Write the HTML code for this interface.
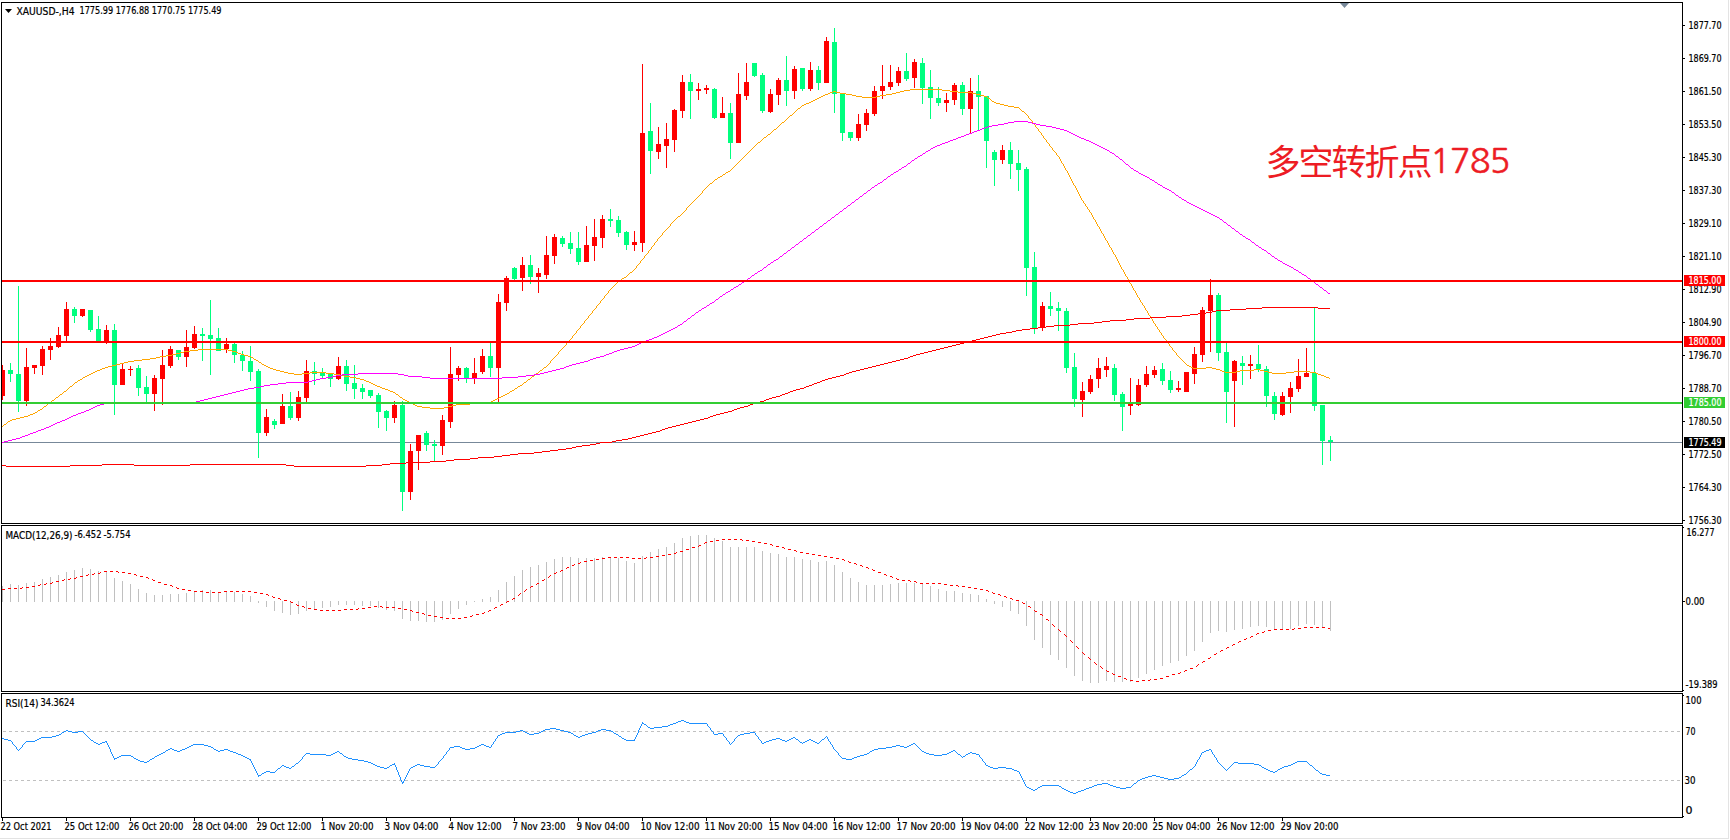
<!DOCTYPE html><html><head><meta charset="utf-8"><title>XAUUSD-,H4</title>
<style>html,body{margin:0;padding:0;background:#fff;width:1730px;height:840px;overflow:hidden}svg{display:block;position:absolute;left:0;top:0}text{font-family:'Liberation Sans', Arial, sans-serif}</style></head><body>
<svg width="1730" height="840" viewBox="0 0 1730 840">
<rect x="0" y="0" width="1730" height="840" fill="#fff"/>
<defs><clipPath id="cm"><rect x="2" y="3" width="1680" height="520"/></clipPath><clipPath id="cd"><rect x="2" y="526" width="1680" height="165"/></clipPath><clipPath id="cr"><rect x="2" y="694" width="1680" height="123"/></clipPath></defs>
<g clip-path="url(#cm)" shape-rendering="crispEdges">
<rect x="2" y="442" width="1680" height="1" fill="#778899"/>
<rect x="2" y="365" width="1" height="35" fill="#ff0000"/>
<rect x="0" y="370" width="5" height="26" fill="#ff0000"/>
<rect x="10" y="363" width="1" height="19" fill="#00ff7f"/>
<rect x="8" y="370" width="5" height="4" fill="#00ff7f"/>
<rect x="18" y="286" width="1" height="126" fill="#00ff7f"/>
<rect x="16" y="374" width="5" height="27" fill="#00ff7f"/>
<rect x="26" y="348" width="1" height="58" fill="#ff0000"/>
<rect x="24" y="367" width="5" height="34" fill="#ff0000"/>
<rect x="34" y="365" width="1" height="9" fill="#ff0000"/>
<rect x="32" y="365" width="5" height="3" fill="#ff0000"/>
<rect x="42" y="346" width="1" height="29" fill="#ff0000"/>
<rect x="40" y="349" width="5" height="17" fill="#ff0000"/>
<rect x="50" y="338" width="1" height="22" fill="#ff0000"/>
<rect x="48" y="346" width="5" height="4" fill="#ff0000"/>
<rect x="58" y="327" width="1" height="21" fill="#ff0000"/>
<rect x="56" y="335" width="5" height="12" fill="#ff0000"/>
<rect x="66" y="302" width="1" height="39" fill="#ff0000"/>
<rect x="64" y="309" width="5" height="27" fill="#ff0000"/>
<rect x="74" y="307" width="1" height="16" fill="#00ff7f"/>
<rect x="72" y="309" width="5" height="7" fill="#00ff7f"/>
<rect x="82" y="309" width="1" height="8" fill="#ff0000"/>
<rect x="80" y="309" width="5" height="7" fill="#ff0000"/>
<rect x="90" y="310" width="1" height="22" fill="#00ff7f"/>
<rect x="88" y="310" width="5" height="20" fill="#00ff7f"/>
<rect x="98" y="316" width="1" height="25" fill="#00ff7f"/>
<rect x="96" y="329" width="5" height="12" fill="#00ff7f"/>
<rect x="106" y="325" width="1" height="19" fill="#ff0000"/>
<rect x="104" y="330" width="5" height="12" fill="#ff0000"/>
<rect x="114" y="324" width="1" height="91" fill="#00ff7f"/>
<rect x="112" y="330" width="5" height="55" fill="#00ff7f"/>
<rect x="122" y="363" width="1" height="22" fill="#ff0000"/>
<rect x="120" y="369" width="5" height="16" fill="#ff0000"/>
<rect x="130" y="366" width="1" height="10" fill="#ff0000"/>
<rect x="128" y="369" width="5" height="1" fill="#ff0000"/>
<rect x="138" y="365" width="1" height="31" fill="#00ff7f"/>
<rect x="136" y="368" width="5" height="20" fill="#00ff7f"/>
<rect x="146" y="376" width="1" height="27" fill="#00ff7f"/>
<rect x="144" y="387" width="5" height="7" fill="#00ff7f"/>
<rect x="154" y="375" width="1" height="36" fill="#ff0000"/>
<rect x="152" y="378" width="5" height="16" fill="#ff0000"/>
<rect x="162" y="350" width="1" height="55" fill="#ff0000"/>
<rect x="160" y="365" width="5" height="14" fill="#ff0000"/>
<rect x="170" y="346" width="1" height="22" fill="#ff0000"/>
<rect x="168" y="349" width="5" height="17" fill="#ff0000"/>
<rect x="178" y="350" width="1" height="10" fill="#00ff7f"/>
<rect x="176" y="350" width="5" height="7" fill="#00ff7f"/>
<rect x="186" y="330" width="1" height="37" fill="#ff0000"/>
<rect x="184" y="347" width="5" height="10" fill="#ff0000"/>
<rect x="194" y="326" width="1" height="23" fill="#ff0000"/>
<rect x="192" y="334" width="5" height="14" fill="#ff0000"/>
<rect x="202" y="328" width="1" height="33" fill="#00ff7f"/>
<rect x="200" y="334" width="5" height="2" fill="#00ff7f"/>
<rect x="210" y="300" width="1" height="75" fill="#00ff7f"/>
<rect x="208" y="335" width="5" height="4" fill="#00ff7f"/>
<rect x="218" y="328" width="1" height="23" fill="#00ff7f"/>
<rect x="216" y="338" width="5" height="13" fill="#00ff7f"/>
<rect x="226" y="338" width="1" height="15" fill="#ff0000"/>
<rect x="224" y="344" width="5" height="5" fill="#ff0000"/>
<rect x="234" y="343" width="1" height="20" fill="#00ff7f"/>
<rect x="232" y="344" width="5" height="11" fill="#00ff7f"/>
<rect x="242" y="351" width="1" height="20" fill="#00ff7f"/>
<rect x="240" y="355" width="5" height="6" fill="#00ff7f"/>
<rect x="250" y="346" width="1" height="35" fill="#00ff7f"/>
<rect x="248" y="361" width="5" height="11" fill="#00ff7f"/>
<rect x="258" y="369" width="1" height="89" fill="#00ff7f"/>
<rect x="256" y="371" width="5" height="62" fill="#00ff7f"/>
<rect x="266" y="409" width="1" height="27" fill="#ff0000"/>
<rect x="264" y="417" width="5" height="16" fill="#ff0000"/>
<rect x="274" y="419" width="1" height="10" fill="#00ff7f"/>
<rect x="272" y="421" width="5" height="4" fill="#00ff7f"/>
<rect x="282" y="394" width="1" height="30" fill="#ff0000"/>
<rect x="280" y="406" width="5" height="18" fill="#ff0000"/>
<rect x="290" y="392" width="1" height="28" fill="#00ff7f"/>
<rect x="288" y="406" width="5" height="12" fill="#00ff7f"/>
<rect x="298" y="391" width="1" height="30" fill="#ff0000"/>
<rect x="296" y="397" width="5" height="21" fill="#ff0000"/>
<rect x="306" y="360" width="1" height="42" fill="#ff0000"/>
<rect x="304" y="371" width="5" height="27" fill="#ff0000"/>
<rect x="314" y="362" width="1" height="23" fill="#00ff7f"/>
<rect x="312" y="371" width="5" height="3" fill="#00ff7f"/>
<rect x="322" y="368" width="1" height="10" fill="#00ff7f"/>
<rect x="320" y="373" width="5" height="3" fill="#00ff7f"/>
<rect x="330" y="373" width="1" height="14" fill="#00ff7f"/>
<rect x="328" y="374" width="5" height="5" fill="#00ff7f"/>
<rect x="338" y="357" width="1" height="23" fill="#ff0000"/>
<rect x="336" y="366" width="5" height="13" fill="#ff0000"/>
<rect x="346" y="360" width="1" height="31" fill="#00ff7f"/>
<rect x="344" y="366" width="5" height="18" fill="#00ff7f"/>
<rect x="354" y="365" width="1" height="34" fill="#00ff7f"/>
<rect x="352" y="383" width="5" height="6" fill="#00ff7f"/>
<rect x="362" y="384" width="1" height="15" fill="#00ff7f"/>
<rect x="360" y="388" width="5" height="4" fill="#00ff7f"/>
<rect x="370" y="390" width="1" height="8" fill="#00ff7f"/>
<rect x="368" y="390" width="5" height="6" fill="#00ff7f"/>
<rect x="378" y="393" width="1" height="35" fill="#00ff7f"/>
<rect x="376" y="395" width="5" height="17" fill="#00ff7f"/>
<rect x="386" y="410" width="1" height="21" fill="#00ff7f"/>
<rect x="384" y="411" width="5" height="7" fill="#00ff7f"/>
<rect x="394" y="401" width="1" height="22" fill="#ff0000"/>
<rect x="392" y="405" width="5" height="13" fill="#ff0000"/>
<rect x="402" y="401" width="1" height="110" fill="#00ff7f"/>
<rect x="400" y="405" width="5" height="87" fill="#00ff7f"/>
<rect x="410" y="444" width="1" height="56" fill="#ff0000"/>
<rect x="408" y="451" width="5" height="41" fill="#ff0000"/>
<rect x="418" y="435" width="1" height="35" fill="#ff0000"/>
<rect x="416" y="435" width="5" height="16" fill="#ff0000"/>
<rect x="426" y="431" width="1" height="20" fill="#00ff7f"/>
<rect x="424" y="433" width="5" height="12" fill="#00ff7f"/>
<rect x="434" y="440" width="1" height="22" fill="#00ff7f"/>
<rect x="432" y="444" width="5" height="2" fill="#00ff7f"/>
<rect x="442" y="415" width="1" height="40" fill="#ff0000"/>
<rect x="440" y="420" width="5" height="26" fill="#ff0000"/>
<rect x="450" y="347" width="1" height="81" fill="#ff0000"/>
<rect x="448" y="374" width="5" height="48" fill="#ff0000"/>
<rect x="458" y="366" width="1" height="15" fill="#ff0000"/>
<rect x="456" y="368" width="5" height="7" fill="#ff0000"/>
<rect x="466" y="367" width="1" height="16" fill="#00ff7f"/>
<rect x="464" y="368" width="5" height="10" fill="#00ff7f"/>
<rect x="474" y="358" width="1" height="26" fill="#ff0000"/>
<rect x="472" y="373" width="5" height="5" fill="#ff0000"/>
<rect x="482" y="349" width="1" height="25" fill="#ff0000"/>
<rect x="480" y="356" width="5" height="16" fill="#ff0000"/>
<rect x="490" y="343" width="1" height="34" fill="#00ff7f"/>
<rect x="488" y="356" width="5" height="12" fill="#00ff7f"/>
<rect x="498" y="294" width="1" height="108" fill="#ff0000"/>
<rect x="496" y="302" width="5" height="66" fill="#ff0000"/>
<rect x="506" y="276" width="1" height="35" fill="#ff0000"/>
<rect x="504" y="278" width="5" height="25" fill="#ff0000"/>
<rect x="514" y="267" width="1" height="13" fill="#00ff7f"/>
<rect x="512" y="268" width="5" height="11" fill="#00ff7f"/>
<rect x="522" y="257" width="1" height="34" fill="#ff0000"/>
<rect x="520" y="265" width="5" height="13" fill="#ff0000"/>
<rect x="530" y="255" width="1" height="29" fill="#00ff7f"/>
<rect x="528" y="265" width="5" height="12" fill="#00ff7f"/>
<rect x="538" y="268" width="1" height="25" fill="#ff0000"/>
<rect x="536" y="273" width="5" height="4" fill="#ff0000"/>
<rect x="546" y="236" width="1" height="43" fill="#ff0000"/>
<rect x="544" y="255" width="5" height="20" fill="#ff0000"/>
<rect x="554" y="234" width="1" height="30" fill="#ff0000"/>
<rect x="552" y="237" width="5" height="19" fill="#ff0000"/>
<rect x="562" y="236" width="1" height="11" fill="#00ff7f"/>
<rect x="560" y="238" width="5" height="6" fill="#00ff7f"/>
<rect x="570" y="232" width="1" height="22" fill="#00ff7f"/>
<rect x="568" y="243" width="5" height="6" fill="#00ff7f"/>
<rect x="578" y="232" width="1" height="33" fill="#00ff7f"/>
<rect x="576" y="248" width="5" height="14" fill="#00ff7f"/>
<rect x="586" y="226" width="1" height="36" fill="#ff0000"/>
<rect x="584" y="245" width="5" height="17" fill="#ff0000"/>
<rect x="594" y="219" width="1" height="42" fill="#ff0000"/>
<rect x="592" y="237" width="5" height="9" fill="#ff0000"/>
<rect x="602" y="215" width="1" height="33" fill="#ff0000"/>
<rect x="600" y="219" width="5" height="19" fill="#ff0000"/>
<rect x="610" y="209" width="1" height="18" fill="#00ff7f"/>
<rect x="608" y="219" width="5" height="2" fill="#00ff7f"/>
<rect x="618" y="216" width="1" height="21" fill="#00ff7f"/>
<rect x="616" y="220" width="5" height="13" fill="#00ff7f"/>
<rect x="626" y="231" width="1" height="19" fill="#00ff7f"/>
<rect x="624" y="232" width="5" height="13" fill="#00ff7f"/>
<rect x="634" y="231" width="1" height="20" fill="#ff0000"/>
<rect x="632" y="242" width="5" height="3" fill="#ff0000"/>
<rect x="642" y="64" width="1" height="188" fill="#ff0000"/>
<rect x="640" y="133" width="5" height="110" fill="#ff0000"/>
<rect x="650" y="103" width="1" height="71" fill="#00ff7f"/>
<rect x="648" y="131" width="5" height="20" fill="#00ff7f"/>
<rect x="658" y="127" width="1" height="32" fill="#ff0000"/>
<rect x="656" y="144" width="5" height="8" fill="#ff0000"/>
<rect x="666" y="123" width="1" height="45" fill="#ff0000"/>
<rect x="664" y="139" width="5" height="7" fill="#ff0000"/>
<rect x="674" y="109" width="1" height="43" fill="#ff0000"/>
<rect x="672" y="110" width="5" height="30" fill="#ff0000"/>
<rect x="682" y="75" width="1" height="43" fill="#ff0000"/>
<rect x="680" y="82" width="5" height="29" fill="#ff0000"/>
<rect x="690" y="74" width="1" height="45" fill="#00ff7f"/>
<rect x="688" y="82" width="5" height="9" fill="#00ff7f"/>
<rect x="698" y="83" width="1" height="17" fill="#ff0000"/>
<rect x="696" y="89" width="5" height="2" fill="#ff0000"/>
<rect x="706" y="85" width="1" height="9" fill="#ff0000"/>
<rect x="704" y="88" width="5" height="2" fill="#ff0000"/>
<rect x="714" y="88" width="1" height="31" fill="#00ff7f"/>
<rect x="712" y="89" width="5" height="29" fill="#00ff7f"/>
<rect x="722" y="97" width="1" height="21" fill="#ff0000"/>
<rect x="720" y="113" width="5" height="5" fill="#ff0000"/>
<rect x="730" y="103" width="1" height="56" fill="#00ff7f"/>
<rect x="728" y="113" width="5" height="30" fill="#00ff7f"/>
<rect x="738" y="73" width="1" height="70" fill="#ff0000"/>
<rect x="736" y="94" width="5" height="49" fill="#ff0000"/>
<rect x="746" y="63" width="1" height="37" fill="#ff0000"/>
<rect x="744" y="82" width="5" height="14" fill="#ff0000"/>
<rect x="754" y="63" width="1" height="14" fill="#00ff7f"/>
<rect x="752" y="63" width="5" height="13" fill="#00ff7f"/>
<rect x="762" y="73" width="1" height="40" fill="#00ff7f"/>
<rect x="760" y="75" width="5" height="36" fill="#00ff7f"/>
<rect x="770" y="89" width="1" height="24" fill="#ff0000"/>
<rect x="768" y="94" width="5" height="18" fill="#ff0000"/>
<rect x="778" y="78" width="1" height="27" fill="#ff0000"/>
<rect x="776" y="80" width="5" height="15" fill="#ff0000"/>
<rect x="786" y="56" width="1" height="50" fill="#00ff7f"/>
<rect x="784" y="80" width="5" height="11" fill="#00ff7f"/>
<rect x="794" y="66" width="1" height="33" fill="#ff0000"/>
<rect x="792" y="69" width="5" height="22" fill="#ff0000"/>
<rect x="802" y="68" width="1" height="23" fill="#00ff7f"/>
<rect x="800" y="68" width="5" height="21" fill="#00ff7f"/>
<rect x="810" y="62" width="1" height="29" fill="#ff0000"/>
<rect x="808" y="70" width="5" height="19" fill="#ff0000"/>
<rect x="818" y="66" width="1" height="24" fill="#00ff7f"/>
<rect x="816" y="70" width="5" height="13" fill="#00ff7f"/>
<rect x="826" y="37" width="1" height="46" fill="#ff0000"/>
<rect x="824" y="41" width="5" height="42" fill="#ff0000"/>
<rect x="834" y="28" width="1" height="85" fill="#00ff7f"/>
<rect x="832" y="42" width="5" height="52" fill="#00ff7f"/>
<rect x="842" y="93" width="1" height="48" fill="#00ff7f"/>
<rect x="840" y="93" width="5" height="40" fill="#00ff7f"/>
<rect x="850" y="132" width="1" height="9" fill="#00ff7f"/>
<rect x="848" y="132" width="5" height="6" fill="#00ff7f"/>
<rect x="858" y="114" width="1" height="27" fill="#ff0000"/>
<rect x="856" y="124" width="5" height="14" fill="#ff0000"/>
<rect x="866" y="109" width="1" height="22" fill="#ff0000"/>
<rect x="864" y="113" width="5" height="12" fill="#ff0000"/>
<rect x="874" y="86" width="1" height="30" fill="#ff0000"/>
<rect x="872" y="91" width="5" height="23" fill="#ff0000"/>
<rect x="882" y="65" width="1" height="34" fill="#ff0000"/>
<rect x="880" y="86" width="5" height="5" fill="#ff0000"/>
<rect x="890" y="65" width="1" height="25" fill="#ff0000"/>
<rect x="888" y="82" width="5" height="5" fill="#ff0000"/>
<rect x="898" y="67" width="1" height="19" fill="#ff0000"/>
<rect x="896" y="71" width="5" height="12" fill="#ff0000"/>
<rect x="906" y="53" width="1" height="28" fill="#00ff7f"/>
<rect x="904" y="71" width="5" height="8" fill="#00ff7f"/>
<rect x="914" y="59" width="1" height="29" fill="#ff0000"/>
<rect x="912" y="62" width="5" height="16" fill="#ff0000"/>
<rect x="922" y="58" width="1" height="46" fill="#00ff7f"/>
<rect x="920" y="63" width="5" height="25" fill="#00ff7f"/>
<rect x="930" y="70" width="1" height="49" fill="#00ff7f"/>
<rect x="928" y="87" width="5" height="11" fill="#00ff7f"/>
<rect x="938" y="87" width="1" height="19" fill="#00ff7f"/>
<rect x="936" y="98" width="5" height="5" fill="#00ff7f"/>
<rect x="946" y="93" width="1" height="19" fill="#ff0000"/>
<rect x="944" y="100" width="5" height="3" fill="#ff0000"/>
<rect x="954" y="83" width="1" height="22" fill="#ff0000"/>
<rect x="952" y="85" width="5" height="15" fill="#ff0000"/>
<rect x="962" y="82" width="1" height="33" fill="#00ff7f"/>
<rect x="960" y="85" width="5" height="24" fill="#00ff7f"/>
<rect x="970" y="78" width="1" height="55" fill="#ff0000"/>
<rect x="968" y="91" width="5" height="18" fill="#ff0000"/>
<rect x="978" y="75" width="1" height="56" fill="#00ff7f"/>
<rect x="976" y="91" width="5" height="6" fill="#00ff7f"/>
<rect x="986" y="96" width="1" height="72" fill="#00ff7f"/>
<rect x="984" y="96" width="5" height="45" fill="#00ff7f"/>
<rect x="994" y="150" width="1" height="36" fill="#00ff7f"/>
<rect x="992" y="152" width="5" height="8" fill="#00ff7f"/>
<rect x="1002" y="145" width="1" height="19" fill="#ff0000"/>
<rect x="1000" y="150" width="5" height="10" fill="#ff0000"/>
<rect x="1010" y="142" width="1" height="37" fill="#00ff7f"/>
<rect x="1008" y="150" width="5" height="14" fill="#00ff7f"/>
<rect x="1018" y="150" width="1" height="41" fill="#00ff7f"/>
<rect x="1016" y="163" width="5" height="7" fill="#00ff7f"/>
<rect x="1026" y="167" width="1" height="129" fill="#00ff7f"/>
<rect x="1024" y="169" width="5" height="99" fill="#00ff7f"/>
<rect x="1034" y="252" width="1" height="82" fill="#00ff7f"/>
<rect x="1032" y="267" width="5" height="61" fill="#00ff7f"/>
<rect x="1042" y="302" width="1" height="29" fill="#ff0000"/>
<rect x="1040" y="306" width="5" height="22" fill="#ff0000"/>
<rect x="1050" y="292" width="1" height="24" fill="#00ff7f"/>
<rect x="1048" y="306" width="5" height="3" fill="#00ff7f"/>
<rect x="1058" y="302" width="1" height="29" fill="#00ff7f"/>
<rect x="1056" y="308" width="5" height="3" fill="#00ff7f"/>
<rect x="1066" y="308" width="1" height="65" fill="#00ff7f"/>
<rect x="1064" y="311" width="5" height="57" fill="#00ff7f"/>
<rect x="1074" y="353" width="1" height="54" fill="#00ff7f"/>
<rect x="1072" y="367" width="5" height="32" fill="#00ff7f"/>
<rect x="1082" y="382" width="1" height="35" fill="#ff0000"/>
<rect x="1080" y="391" width="5" height="9" fill="#ff0000"/>
<rect x="1090" y="375" width="1" height="19" fill="#ff0000"/>
<rect x="1088" y="379" width="5" height="13" fill="#ff0000"/>
<rect x="1098" y="358" width="1" height="30" fill="#ff0000"/>
<rect x="1096" y="368" width="5" height="11" fill="#ff0000"/>
<rect x="1106" y="357" width="1" height="20" fill="#ff0000"/>
<rect x="1104" y="366" width="5" height="4" fill="#ff0000"/>
<rect x="1114" y="364" width="1" height="37" fill="#00ff7f"/>
<rect x="1112" y="368" width="5" height="27" fill="#00ff7f"/>
<rect x="1122" y="392" width="1" height="39" fill="#00ff7f"/>
<rect x="1120" y="394" width="5" height="13" fill="#00ff7f"/>
<rect x="1130" y="378" width="1" height="37" fill="#ff0000"/>
<rect x="1128" y="404" width="5" height="2" fill="#ff0000"/>
<rect x="1138" y="379" width="1" height="27" fill="#ff0000"/>
<rect x="1136" y="385" width="5" height="20" fill="#ff0000"/>
<rect x="1146" y="366" width="1" height="21" fill="#ff0000"/>
<rect x="1144" y="374" width="5" height="11" fill="#ff0000"/>
<rect x="1154" y="366" width="1" height="12" fill="#ff0000"/>
<rect x="1152" y="370" width="5" height="5" fill="#ff0000"/>
<rect x="1162" y="363" width="1" height="22" fill="#00ff7f"/>
<rect x="1160" y="369" width="5" height="12" fill="#00ff7f"/>
<rect x="1170" y="371" width="1" height="22" fill="#00ff7f"/>
<rect x="1168" y="380" width="5" height="10" fill="#00ff7f"/>
<rect x="1178" y="381" width="1" height="11" fill="#ff0000"/>
<rect x="1176" y="388" width="5" height="2" fill="#ff0000"/>
<rect x="1186" y="372" width="1" height="20" fill="#ff0000"/>
<rect x="1184" y="372" width="5" height="20" fill="#ff0000"/>
<rect x="1194" y="347" width="1" height="37" fill="#ff0000"/>
<rect x="1192" y="354" width="5" height="20" fill="#ff0000"/>
<rect x="1202" y="307" width="1" height="55" fill="#ff0000"/>
<rect x="1200" y="310" width="5" height="45" fill="#ff0000"/>
<rect x="1210" y="279" width="1" height="73" fill="#ff0000"/>
<rect x="1208" y="295" width="5" height="16" fill="#ff0000"/>
<rect x="1218" y="293" width="1" height="68" fill="#00ff7f"/>
<rect x="1216" y="295" width="5" height="58" fill="#00ff7f"/>
<rect x="1226" y="343" width="1" height="80" fill="#00ff7f"/>
<rect x="1224" y="352" width="5" height="40" fill="#00ff7f"/>
<rect x="1234" y="360" width="1" height="67" fill="#ff0000"/>
<rect x="1232" y="361" width="5" height="20" fill="#ff0000"/>
<rect x="1242" y="356" width="1" height="29" fill="#00ff7f"/>
<rect x="1240" y="363" width="5" height="3" fill="#00ff7f"/>
<rect x="1250" y="355" width="1" height="24" fill="#ff0000"/>
<rect x="1248" y="364" width="5" height="2" fill="#ff0000"/>
<rect x="1258" y="345" width="1" height="27" fill="#00ff7f"/>
<rect x="1256" y="364" width="5" height="5" fill="#00ff7f"/>
<rect x="1266" y="366" width="1" height="41" fill="#00ff7f"/>
<rect x="1264" y="369" width="5" height="27" fill="#00ff7f"/>
<rect x="1274" y="392" width="1" height="28" fill="#00ff7f"/>
<rect x="1272" y="396" width="5" height="18" fill="#00ff7f"/>
<rect x="1282" y="392" width="1" height="24" fill="#ff0000"/>
<rect x="1280" y="396" width="5" height="19" fill="#ff0000"/>
<rect x="1290" y="382" width="1" height="31" fill="#ff0000"/>
<rect x="1288" y="388" width="5" height="9" fill="#ff0000"/>
<rect x="1298" y="359" width="1" height="33" fill="#ff0000"/>
<rect x="1296" y="376" width="5" height="13" fill="#ff0000"/>
<rect x="1306" y="348" width="1" height="29" fill="#ff0000"/>
<rect x="1304" y="373" width="5" height="4" fill="#ff0000"/>
<rect x="1314" y="308" width="1" height="103" fill="#00ff7f"/>
<rect x="1312" y="373" width="5" height="33" fill="#00ff7f"/>
<rect x="1322" y="405" width="1" height="60" fill="#00ff7f"/>
<rect x="1320" y="405" width="5" height="36" fill="#00ff7f"/>
<rect x="1330" y="436" width="1" height="25" fill="#00ff7f"/>
<rect x="1328" y="440" width="5" height="2" fill="#00ff7f"/>
<path d="M910 89h32v1h-32zM904 90h6v1h-6zM942 90h8v1h-8zM833 91h3v1h-3zM900 91h4v1h-4zM950 91h8v1h-8zM830 92h3v1h-3zM836 92h4v1h-4zM896 92h4v1h-4zM958 92h14v1h-14zM828 93h2v1h-2zM840 93h6v1h-6zM892 93h4v1h-4zM972 93h4v1h-4zM825 94h3v1h-3zM846 94h6v1h-6zM886 94h6v1h-6zM976 94h4v1h-4zM823 95h2v1h-2zM852 95h4v1h-4zM880 95h6v1h-6zM980 95h4v1h-4zM821 96h2v1h-2zM856 96h6v1h-6zM876 96h4v1h-4zM984 96h3v1h-3zM819 97h2v1h-2zM862 97h14v1h-14zM987 97h1v1h-1zM817 98h2v1h-2zM988 98h2v1h-2zM815 99h2v1h-2zM990 99h1v1h-1zM813 100h2v1h-2zM991 100h1v1h-1zM811 101h2v1h-2zM992 101h2v1h-2zM809 102h2v1h-2zM994 102h2v1h-2zM806 103h3v1h-3zM996 103h4v1h-4zM804 104h2v1h-2zM1000 104h4v1h-4zM802 105h2v1h-2zM1004 105h4v1h-4zM801 106h1v1h-1zM1008 106h6v1h-6zM800 107h1v1h-1zM1014 107h5v1h-5zM798 108h2v1h-2zM1019 108h1v1h-1zM797 109h1v1h-1zM1020 109h1v1h-1zM796 110h1v1h-1zM1021 110h1v1h-1zM795 111h1v1h-1zM1022 111h2v1h-2zM794 112h1v1h-1zM1024 112h1v1h-1zM793 113h1v1h-1zM1025 113h1v1h-1zM792 114h1v1h-1zM1026 114h1v1h-1zM790 115h2v1h-2zM1027 115h1v1h-1zM789 116h1v1h-1zM1028 116h1v1h-1zM788 117h1v1h-1zM1028 117h1v1h-1zM787 118h1v1h-1zM1029 118h1v1h-1zM786 119h1v1h-1zM1030 119h1v1h-1zM785 120h1v1h-1zM1031 120h1v1h-1zM784 121h1v1h-1zM1032 121h1v1h-1zM782 122h2v1h-2zM1032 122h1v1h-1zM781 123h1v1h-1zM1033 123h1v1h-1zM780 124h1v1h-1zM1034 124h1v1h-1zM779 125h1v1h-1zM1035 125h1v1h-1zM778 126h1v1h-1zM1035 126h1v1h-1zM777 127h1v1h-1zM1036 127h1v1h-1zM776 128h1v1h-1zM1037 128h1v1h-1zM774 129h2v1h-2zM1038 129h1v1h-1zM773 130h1v1h-1zM1038 130h1v1h-1zM772 131h1v1h-1zM1039 131h1v1h-1zM771 132h1v1h-1zM1040 132h1v1h-1zM770 133h1v1h-1zM1041 133h1v1h-1zM768 134h2v1h-2zM1041 134h1v1h-1zM767 135h1v1h-1zM1042 135h1v1h-1zM766 136h1v1h-1zM1043 136h1v1h-1zM764 137h2v1h-2zM1043 137h1v1h-1zM763 138h1v1h-1zM1044 138h1v1h-1zM762 139h1v1h-1zM1045 139h1v1h-1zM761 140h1v1h-1zM1046 140h1v1h-1zM760 141h1v1h-1zM1046 141h1v1h-1zM758 142h2v1h-2zM1047 142h1v1h-1zM757 143h1v1h-1zM1048 143h1v1h-1zM756 144h1v1h-1zM1049 144h1v1h-1zM755 145h1v1h-1zM1049 145h1v1h-1zM754 146h1v1h-1zM1050 146h1v1h-1zM753 147h1v1h-1zM1051 147h1v1h-1zM752 148h1v1h-1zM1052 148h1v1h-1zM751 149h1v1h-1zM1052 149h1v1h-1zM750 150h1v1h-1zM1053 150h1v1h-1zM749 151h1v1h-1zM1054 151h1v1h-1zM748 152h1v1h-1zM1055 152h1v1h-1zM747 153h1v1h-1zM1056 153h1v1h-1zM746 154h1v1h-1zM1056 154h1v1h-1zM745 155h1v1h-1zM1057 155h1v1h-1zM744 156h1v1h-1zM1058 156h1v1h-1zM743 157h1v1h-1zM1059 157h1v1h-1zM742 158h1v1h-1zM1059 158h1v1h-1zM741 159h1v1h-1zM1060 159h1v1h-1zM740 160h1v1h-1zM1060 160h1v1h-1zM739 161h1v1h-1zM1061 161h1v1h-1zM738 162h1v1h-1zM1061 162h1v1h-1zM737 163h1v1h-1zM1062 163h1v1h-1zM736 164h1v1h-1zM1063 164h1v1h-1zM735 165h1v1h-1zM1063 165h1v1h-1zM734 166h1v1h-1zM1064 166h1v1h-1zM733 167h1v1h-1zM1064 167h1v1h-1zM732 168h1v1h-1zM1065 168h1v1h-1zM731 169h1v1h-1zM1065 169h1v1h-1zM730 170h1v1h-1zM1066 170h1v1h-1zM728 171h2v1h-2zM1067 171h1v1h-1zM726 172h2v1h-2zM1067 172h1v1h-1zM725 173h1v1h-1zM1068 173h1v1h-1zM723 174h2v1h-2zM1068 174h1v1h-1zM722 175h1v1h-1zM1069 175h1v1h-1zM720 176h2v1h-2zM1069 176h1v1h-1zM718 177h2v1h-2zM1070 177h1v1h-1zM717 178h1v1h-1zM1070 178h1v1h-1zM715 179h2v1h-2zM1071 179h1v1h-1zM714 180h1v1h-1zM1071 180h1v1h-1zM713 181h1v1h-1zM1072 181h1v1h-1zM712 182h1v1h-1zM1072 182h1v1h-1zM710 183h2v1h-2zM1073 183h1v1h-1zM709 184h1v1h-1zM1073 184h1v1h-1zM708 185h1v1h-1zM1074 185h1v1h-1zM707 186h1v1h-1zM1075 186h1v1h-1zM706 187h1v1h-1zM1075 187h1v1h-1zM705 188h1v1h-1zM1076 188h1v1h-1zM704 189h1v1h-1zM1076 189h1v1h-1zM703 190h1v1h-1zM1077 190h1v1h-1zM702 191h1v1h-1zM1077 191h1v1h-1zM702 192h1v1h-1zM1078 192h1v1h-1zM701 193h1v1h-1zM1078 193h1v1h-1zM700 194h1v1h-1zM1079 194h1v1h-1zM699 195h1v1h-1zM1079 195h1v1h-1zM698 196h1v1h-1zM1080 196h1v1h-1zM697 197h1v1h-1zM1080 197h1v1h-1zM696 198h1v1h-1zM1081 198h1v1h-1zM695 199h1v1h-1zM1081 199h1v1h-1zM694 200h1v1h-1zM1082 200h1v1h-1zM693 201h1v1h-1zM1083 201h1v1h-1zM692 202h1v1h-1zM1083 202h1v1h-1zM691 203h1v1h-1zM1084 203h1v1h-1zM690 204h1v1h-1zM1085 204h1v1h-1zM689 205h1v1h-1zM1085 205h1v1h-1zM688 206h1v1h-1zM1086 206h1v1h-1zM687 207h1v1h-1zM1087 207h1v1h-1zM686 208h1v1h-1zM1087 208h1v1h-1zM686 209h1v1h-1zM1088 209h1v1h-1zM685 210h1v1h-1zM1089 210h1v1h-1zM684 211h1v1h-1zM1089 211h1v1h-1zM683 212h1v1h-1zM1090 212h1v1h-1zM682 213h1v1h-1zM1091 213h1v1h-1zM681 214h1v1h-1zM1091 214h1v1h-1zM680 215h1v1h-1zM1092 215h1v1h-1zM678 216h2v1h-2zM1092 216h1v1h-1zM677 217h1v1h-1zM1093 217h1v1h-1zM676 218h1v1h-1zM1093 218h1v1h-1zM675 219h1v1h-1zM1094 219h1v1h-1zM674 220h1v1h-1zM1095 220h1v1h-1zM673 221h1v1h-1zM1095 221h1v1h-1zM672 222h1v1h-1zM1096 222h1v1h-1zM671 223h1v1h-1zM1096 223h1v1h-1zM670 224h1v1h-1zM1097 224h1v1h-1zM670 225h1v1h-1zM1097 225h1v1h-1zM669 226h1v1h-1zM1098 226h1v1h-1zM668 227h1v1h-1zM1099 227h1v1h-1zM667 228h1v1h-1zM1099 228h1v1h-1zM666 229h1v1h-1zM1100 229h1v1h-1zM665 230h1v1h-1zM1100 230h1v1h-1zM664 231h1v1h-1zM1101 231h1v1h-1zM663 232h1v1h-1zM1101 232h1v1h-1zM662 233h1v1h-1zM1102 233h1v1h-1zM662 234h1v1h-1zM1103 234h1v1h-1zM661 235h1v1h-1zM1103 235h1v1h-1zM660 236h1v1h-1zM1104 236h1v1h-1zM659 237h1v1h-1zM1104 237h1v1h-1zM658 238h1v1h-1zM1105 238h1v1h-1zM657 239h1v1h-1zM1105 239h1v1h-1zM657 240h1v1h-1zM1106 240h1v1h-1zM656 241h1v1h-1zM1107 241h1v1h-1zM655 242h1v1h-1zM1107 242h1v1h-1zM654 243h1v1h-1zM1108 243h1v1h-1zM654 244h1v1h-1zM1108 244h1v1h-1zM653 245h1v1h-1zM1109 245h1v1h-1zM652 246h1v1h-1zM1109 246h1v1h-1zM651 247h1v1h-1zM1110 247h1v1h-1zM651 248h1v1h-1zM1111 248h1v1h-1zM650 249h1v1h-1zM1111 249h1v1h-1zM649 250h1v1h-1zM1112 250h1v1h-1zM648 251h1v1h-1zM1112 251h1v1h-1zM648 252h1v1h-1zM1113 252h1v1h-1zM647 253h1v1h-1zM1113 253h1v1h-1zM646 254h1v1h-1zM1114 254h1v1h-1zM645 255h1v1h-1zM1115 255h1v1h-1zM644 256h1v1h-1zM1115 256h1v1h-1zM644 257h1v1h-1zM1116 257h1v1h-1zM643 258h1v1h-1zM1116 258h1v1h-1zM642 259h1v1h-1zM1117 259h1v1h-1zM641 260h1v1h-1zM1117 260h1v1h-1zM640 261h1v1h-1zM1118 261h1v1h-1zM640 262h1v1h-1zM1118 262h1v1h-1zM639 263h1v1h-1zM1119 263h1v1h-1zM638 264h1v1h-1zM1119 264h1v1h-1zM637 265h1v1h-1zM1120 265h1v1h-1zM636 266h1v1h-1zM1120 266h1v1h-1zM636 267h1v1h-1zM1121 267h1v1h-1zM635 268h1v1h-1zM1121 268h1v1h-1zM634 269h1v1h-1zM1122 269h1v1h-1zM633 270h1v1h-1zM1123 270h1v1h-1zM632 271h1v1h-1zM1123 271h1v1h-1zM630 272h2v1h-2zM1124 272h1v1h-1zM629 273h1v1h-1zM1124 273h1v1h-1zM628 274h1v1h-1zM1125 274h1v1h-1zM627 275h1v1h-1zM1125 275h1v1h-1zM626 276h1v1h-1zM1126 276h1v1h-1zM624 277h2v1h-2zM1127 277h1v1h-1zM622 278h2v1h-2zM1127 278h1v1h-1zM621 279h1v1h-1zM1128 279h1v1h-1zM619 280h2v1h-2zM1128 280h1v1h-1zM618 281h1v1h-1zM1129 281h1v1h-1zM617 282h1v1h-1zM1129 282h1v1h-1zM616 283h1v1h-1zM1130 283h1v1h-1zM615 284h1v1h-1zM1131 284h1v1h-1zM614 285h1v1h-1zM1131 285h1v1h-1zM613 286h1v1h-1zM1132 286h1v1h-1zM612 287h1v1h-1zM1132 287h1v1h-1zM611 288h1v1h-1zM1133 288h1v1h-1zM610 289h1v1h-1zM1133 289h1v1h-1zM609 290h1v1h-1zM1134 290h1v1h-1zM608 291h1v1h-1zM1135 291h1v1h-1zM608 292h1v1h-1zM1135 292h1v1h-1zM607 293h1v1h-1zM1136 293h1v1h-1zM606 294h1v1h-1zM1136 294h1v1h-1zM605 295h1v1h-1zM1137 295h1v1h-1zM604 296h1v1h-1zM1137 296h1v1h-1zM604 297h1v1h-1zM1138 297h1v1h-1zM603 298h1v1h-1zM1139 298h1v1h-1zM602 299h1v1h-1zM1139 299h1v1h-1zM601 300h1v1h-1zM1140 300h1v1h-1zM600 301h1v1h-1zM1140 301h1v1h-1zM600 302h1v1h-1zM1141 302h1v1h-1zM599 303h1v1h-1zM1142 303h1v1h-1zM598 304h1v1h-1zM1142 304h1v1h-1zM597 305h1v1h-1zM1143 305h1v1h-1zM596 306h1v1h-1zM1144 306h1v1h-1zM596 307h1v1h-1zM1144 307h1v1h-1zM595 308h1v1h-1zM1145 308h1v1h-1zM594 309h1v1h-1zM1145 309h1v1h-1zM593 310h1v1h-1zM1146 310h1v1h-1zM592 311h1v1h-1zM1147 311h1v1h-1zM592 312h1v1h-1zM1147 312h1v1h-1zM591 313h1v1h-1zM1148 313h1v1h-1zM590 314h1v1h-1zM1148 314h1v1h-1zM589 315h1v1h-1zM1149 315h1v1h-1zM588 316h1v1h-1zM1150 316h1v1h-1zM588 317h1v1h-1zM1150 317h1v1h-1zM587 318h1v1h-1zM1151 318h1v1h-1zM586 319h1v1h-1zM1152 319h1v1h-1zM585 320h1v1h-1zM1152 320h1v1h-1zM584 321h1v1h-1zM1153 321h1v1h-1zM584 322h1v1h-1zM1153 322h1v1h-1zM583 323h1v1h-1zM1154 323h1v1h-1zM582 324h1v1h-1zM1155 324h1v1h-1zM581 325h1v1h-1zM1155 325h1v1h-1zM580 326h1v1h-1zM1156 326h1v1h-1zM580 327h1v1h-1zM1157 327h1v1h-1zM579 328h1v1h-1zM1157 328h1v1h-1zM578 329h1v1h-1zM1158 329h1v1h-1zM577 330h1v1h-1zM1159 330h1v1h-1zM576 331h1v1h-1zM1159 331h1v1h-1zM576 332h1v1h-1zM1160 332h1v1h-1zM575 333h1v1h-1zM1161 333h1v1h-1zM574 334h1v1h-1zM1161 334h1v1h-1zM573 335h1v1h-1zM1162 335h1v1h-1zM572 336h1v1h-1zM1163 336h1v1h-1zM572 337h1v1h-1zM1163 337h1v1h-1zM571 338h1v1h-1zM1164 338h1v1h-1zM570 339h1v1h-1zM1165 339h1v1h-1zM569 340h1v1h-1zM1166 340h1v1h-1zM568 341h1v1h-1zM1166 341h1v1h-1zM567 342h1v1h-1zM1167 342h1v1h-1zM566 343h1v1h-1zM1168 343h1v1h-1zM566 344h1v1h-1zM1169 344h1v1h-1zM565 345h1v1h-1zM1169 345h1v1h-1zM564 346h1v1h-1zM1170 346h1v1h-1zM563 347h1v1h-1zM1171 347h1v1h-1zM562 348h1v1h-1zM1172 348h1v1h-1zM198 349h30v1h-30zM561 349h1v1h-1zM1172 349h1v1h-1zM190 350h8v1h-8zM228 350h4v1h-4zM560 350h1v1h-1zM1173 350h1v1h-1zM184 351h6v1h-6zM232 351h4v1h-4zM559 351h1v1h-1zM1174 351h1v1h-1zM180 352h4v1h-4zM236 352h2v1h-2zM558 352h1v1h-1zM1175 352h1v1h-1zM176 353h4v1h-4zM238 353h3v1h-3zM558 353h1v1h-1zM1176 353h1v1h-1zM172 354h4v1h-4zM241 354h3v1h-3zM557 354h1v1h-1zM1176 354h1v1h-1zM166 355h6v1h-6zM244 355h4v1h-4zM556 355h1v1h-1zM1177 355h1v1h-1zM160 356h6v1h-6zM248 356h3v1h-3zM555 356h1v1h-1zM1178 356h1v1h-1zM156 357h4v1h-4zM251 357h2v1h-2zM554 357h1v1h-1zM1179 357h1v1h-1zM150 358h6v1h-6zM253 358h1v1h-1zM553 358h1v1h-1zM1180 358h1v1h-1zM142 359h8v1h-8zM254 359h2v1h-2zM552 359h1v1h-1zM1181 359h1v1h-1zM134 360h8v1h-8zM256 360h2v1h-2zM551 360h1v1h-1zM1182 360h1v1h-1zM128 361h6v1h-6zM258 361h1v1h-1zM550 361h1v1h-1zM1183 361h1v1h-1zM124 362h4v1h-4zM259 362h2v1h-2zM550 362h1v1h-1zM1184 362h1v1h-1zM120 363h4v1h-4zM261 363h1v1h-1zM549 363h1v1h-1zM1185 363h1v1h-1zM116 364h4v1h-4zM262 364h2v1h-2zM548 364h1v1h-1zM1186 364h1v1h-1zM112 365h4v1h-4zM264 365h2v1h-2zM547 365h1v1h-1zM1187 365h2v1h-2zM108 366h4v1h-4zM266 366h2v1h-2zM546 366h1v1h-1zM1189 366h2v1h-2zM105 367h3v1h-3zM268 367h2v1h-2zM544 367h2v1h-2zM1191 367h2v1h-2zM1206 367h6v1h-6zM102 368h3v1h-3zM270 368h3v1h-3zM543 368h1v1h-1zM1193 368h13v1h-13zM1212 368h4v1h-4zM100 369h2v1h-2zM273 369h3v1h-3zM542 369h1v1h-1zM1216 369h4v1h-4zM1254 369h6v1h-6zM97 370h3v1h-3zM276 370h4v1h-4zM540 370h2v1h-2zM1220 370h2v1h-2zM1240 370h14v1h-14zM1260 370h4v1h-4zM95 371h2v1h-2zM280 371h4v1h-4zM539 371h1v1h-1zM1222 371h3v1h-3zM1236 371h4v1h-4zM1264 371h4v1h-4zM1294 371h16v1h-16zM93 372h2v1h-2zM284 372h4v1h-4zM310 372h16v1h-16zM538 372h1v1h-1zM1225 372h11v1h-11zM1268 372h4v1h-4zM1286 372h8v1h-8zM1310 372h6v1h-6zM91 373h2v1h-2zM288 373h6v1h-6zM302 373h8v1h-8zM326 373h8v1h-8zM536 373h2v1h-2zM1272 373h14v1h-14zM1316 373h2v1h-2zM89 374h2v1h-2zM294 374h8v1h-8zM334 374h6v1h-6zM535 374h1v1h-1zM1318 374h3v1h-3zM87 375h2v1h-2zM340 375h4v1h-4zM534 375h1v1h-1zM1321 375h3v1h-3zM85 376h2v1h-2zM344 376h6v1h-6zM532 376h2v1h-2zM1324 376h2v1h-2zM83 377h2v1h-2zM350 377h6v1h-6zM531 377h1v1h-1zM1326 377h3v1h-3zM82 378h1v1h-1zM356 378h4v1h-4zM530 378h1v1h-1zM1329 378h1v1h-1zM80 379h2v1h-2zM360 379h4v1h-4zM528 379h2v1h-2zM78 380h2v1h-2zM364 380h2v1h-2zM527 380h1v1h-1zM77 381h1v1h-1zM366 381h3v1h-3zM526 381h1v1h-1zM75 382h2v1h-2zM369 382h2v1h-2zM524 382h2v1h-2zM74 383h1v1h-1zM371 383h2v1h-2zM523 383h1v1h-1zM73 384h1v1h-1zM373 384h2v1h-2zM522 384h1v1h-1zM72 385h1v1h-1zM375 385h2v1h-2zM520 385h2v1h-2zM70 386h2v1h-2zM377 386h3v1h-3zM518 386h2v1h-2zM69 387h1v1h-1zM380 387h2v1h-2zM517 387h1v1h-1zM68 388h1v1h-1zM382 388h3v1h-3zM515 388h2v1h-2zM67 389h1v1h-1zM385 389h3v1h-3zM514 389h1v1h-1zM66 390h1v1h-1zM388 390h2v1h-2zM512 390h2v1h-2zM64 391h2v1h-2zM390 391h3v1h-3zM510 391h2v1h-2zM63 392h1v1h-1zM393 392h2v1h-2zM509 392h1v1h-1zM62 393h1v1h-1zM395 393h1v1h-1zM507 393h2v1h-2zM60 394h2v1h-2zM396 394h2v1h-2zM505 394h2v1h-2zM59 395h1v1h-1zM398 395h1v1h-1zM503 395h2v1h-2zM58 396h1v1h-1zM399 396h1v1h-1zM501 396h2v1h-2zM56 397h2v1h-2zM400 397h2v1h-2zM499 397h2v1h-2zM55 398h1v1h-1zM402 398h1v1h-1zM497 398h2v1h-2zM54 399h1v1h-1zM403 399h2v1h-2zM495 399h2v1h-2zM52 400h2v1h-2zM405 400h2v1h-2zM493 400h2v1h-2zM51 401h1v1h-1zM407 401h2v1h-2zM491 401h2v1h-2zM50 402h1v1h-1zM409 402h2v1h-2zM478 402h13v1h-13zM48 403h2v1h-2zM411 403h2v1h-2zM470 403h8v1h-8zM47 404h1v1h-1zM413 404h2v1h-2zM456 404h14v1h-14zM46 405h1v1h-1zM415 405h2v1h-2zM452 405h4v1h-4zM44 406h2v1h-2zM417 406h5v1h-5zM448 406h4v1h-4zM43 407h1v1h-1zM422 407h8v1h-8zM444 407h4v1h-4zM42 408h1v1h-1zM430 408h14v1h-14zM40 409h2v1h-2zM38 410h2v1h-2zM37 411h1v1h-1zM35 412h2v1h-2zM33 413h2v1h-2zM30 414h3v1h-3zM28 415h2v1h-2zM24 416h4v1h-4zM20 417h4v1h-4zM16 418h4v1h-4zM12 419h4v1h-4zM10 420h2v1h-2zM8 421h2v1h-2zM7 422h1v1h-1zM6 423h1v1h-1zM4 424h2v1h-2zM3 425h1v1h-1zM2 426h1v1h-1z" fill="#ffa500"/>
<path d="M1014 121h14v1h-14zM1008 122h6v1h-6zM1028 122h4v1h-4zM1004 123h4v1h-4zM1032 123h4v1h-4zM998 124h6v1h-6zM1036 124h4v1h-4zM992 125h6v1h-6zM1040 125h6v1h-6zM988 126h4v1h-4zM1046 126h6v1h-6zM985 127h3v1h-3zM1052 127h4v1h-4zM982 128h3v1h-3zM1056 128h4v1h-4zM980 129h2v1h-2zM1060 129h4v1h-4zM977 130h3v1h-3zM1064 130h3v1h-3zM974 131h3v1h-3zM1067 131h2v1h-2zM972 132h2v1h-2zM1069 132h2v1h-2zM969 133h3v1h-3zM1071 133h2v1h-2zM966 134h3v1h-3zM1073 134h2v1h-2zM964 135h2v1h-2zM1075 135h2v1h-2zM961 136h3v1h-3zM1077 136h2v1h-2zM958 137h3v1h-3zM1079 137h2v1h-2zM956 138h2v1h-2zM1081 138h3v1h-3zM953 139h3v1h-3zM1084 139h2v1h-2zM950 140h3v1h-3zM1086 140h3v1h-3zM948 141h2v1h-2zM1089 141h2v1h-2zM945 142h3v1h-3zM1091 142h2v1h-2zM942 143h3v1h-3zM1093 143h2v1h-2zM940 144h2v1h-2zM1095 144h2v1h-2zM937 145h3v1h-3zM1097 145h2v1h-2zM935 146h2v1h-2zM1099 146h2v1h-2zM933 147h2v1h-2zM1101 147h2v1h-2zM931 148h2v1h-2zM1103 148h2v1h-2zM930 149h1v1h-1zM1105 149h2v1h-2zM928 150h2v1h-2zM1107 150h2v1h-2zM926 151h2v1h-2zM1109 151h1v1h-1zM925 152h1v1h-1zM1110 152h2v1h-2zM923 153h2v1h-2zM1112 153h2v1h-2zM922 154h1v1h-1zM1114 154h1v1h-1zM920 155h2v1h-2zM1115 155h1v1h-1zM918 156h2v1h-2zM1116 156h2v1h-2zM917 157h1v1h-1zM1118 157h1v1h-1zM915 158h2v1h-2zM1119 158h1v1h-1zM914 159h1v1h-1zM1120 159h2v1h-2zM912 160h2v1h-2zM1122 160h1v1h-1zM911 161h1v1h-1zM1123 161h1v1h-1zM910 162h1v1h-1zM1124 162h1v1h-1zM908 163h2v1h-2zM1125 163h1v1h-1zM907 164h1v1h-1zM1126 164h2v1h-2zM906 165h1v1h-1zM1128 165h1v1h-1zM904 166h2v1h-2zM1129 166h1v1h-1zM902 167h2v1h-2zM1130 167h1v1h-1zM901 168h1v1h-1zM1131 168h2v1h-2zM899 169h2v1h-2zM1133 169h1v1h-1zM898 170h1v1h-1zM1134 170h2v1h-2zM896 171h2v1h-2zM1136 171h2v1h-2zM894 172h2v1h-2zM1138 172h1v1h-1zM893 173h1v1h-1zM1139 173h2v1h-2zM891 174h2v1h-2zM1141 174h2v1h-2zM890 175h1v1h-1zM1143 175h2v1h-2zM888 176h2v1h-2zM1145 176h2v1h-2zM887 177h1v1h-1zM1147 177h2v1h-2zM886 178h1v1h-1zM1149 178h1v1h-1zM884 179h2v1h-2zM1150 179h2v1h-2zM883 180h1v1h-1zM1152 180h2v1h-2zM882 181h1v1h-1zM1154 181h1v1h-1zM880 182h2v1h-2zM1155 182h2v1h-2zM878 183h2v1h-2zM1157 183h1v1h-1zM877 184h1v1h-1zM1158 184h2v1h-2zM875 185h2v1h-2zM1160 185h2v1h-2zM874 186h1v1h-1zM1162 186h1v1h-1zM872 187h2v1h-2zM1163 187h2v1h-2zM871 188h1v1h-1zM1165 188h2v1h-2zM870 189h1v1h-1zM1167 189h2v1h-2zM868 190h2v1h-2zM1169 190h2v1h-2zM867 191h1v1h-1zM1171 191h1v1h-1zM866 192h1v1h-1zM1172 192h2v1h-2zM864 193h2v1h-2zM1174 193h1v1h-1zM863 194h1v1h-1zM1175 194h1v1h-1zM862 195h1v1h-1zM1176 195h2v1h-2zM860 196h2v1h-2zM1178 196h1v1h-1zM859 197h1v1h-1zM1179 197h2v1h-2zM858 198h1v1h-1zM1181 198h1v1h-1zM856 199h2v1h-2zM1182 199h2v1h-2zM855 200h1v1h-1zM1184 200h2v1h-2zM854 201h1v1h-1zM1186 201h1v1h-1zM852 202h2v1h-2zM1187 202h2v1h-2zM851 203h1v1h-1zM1189 203h2v1h-2zM850 204h1v1h-1zM1191 204h2v1h-2zM848 205h2v1h-2zM1193 205h2v1h-2zM847 206h1v1h-1zM1195 206h2v1h-2zM846 207h1v1h-1zM1197 207h2v1h-2zM844 208h2v1h-2zM1199 208h2v1h-2zM843 209h1v1h-1zM1201 209h2v1h-2zM842 210h1v1h-1zM1203 210h2v1h-2zM840 211h2v1h-2zM1205 211h2v1h-2zM839 212h1v1h-1zM1207 212h2v1h-2zM838 213h1v1h-1zM1209 213h2v1h-2zM836 214h2v1h-2zM1211 214h2v1h-2zM835 215h1v1h-1zM1213 215h2v1h-2zM834 216h1v1h-1zM1215 216h2v1h-2zM832 217h2v1h-2zM1217 217h2v1h-2zM831 218h1v1h-1zM1219 218h1v1h-1zM830 219h1v1h-1zM1220 219h2v1h-2zM828 220h2v1h-2zM1222 220h1v1h-1zM827 221h1v1h-1zM1223 221h1v1h-1zM826 222h1v1h-1zM1224 222h2v1h-2zM824 223h2v1h-2zM1226 223h1v1h-1zM823 224h1v1h-1zM1227 224h1v1h-1zM822 225h1v1h-1zM1228 225h2v1h-2zM820 226h2v1h-2zM1230 226h1v1h-1zM819 227h1v1h-1zM1231 227h1v1h-1zM818 228h1v1h-1zM1232 228h2v1h-2zM816 229h2v1h-2zM1234 229h1v1h-1zM815 230h1v1h-1zM1235 230h1v1h-1zM814 231h1v1h-1zM1236 231h2v1h-2zM812 232h2v1h-2zM1238 232h1v1h-1zM811 233h1v1h-1zM1239 233h1v1h-1zM810 234h1v1h-1zM1240 234h2v1h-2zM808 235h2v1h-2zM1242 235h1v1h-1zM807 236h1v1h-1zM1243 236h2v1h-2zM806 237h1v1h-1zM1245 237h1v1h-1zM804 238h2v1h-2zM1246 238h2v1h-2zM803 239h1v1h-1zM1248 239h2v1h-2zM802 240h1v1h-1zM1250 240h1v1h-1zM800 241h2v1h-2zM1251 241h1v1h-1zM799 242h1v1h-1zM1252 242h2v1h-2zM798 243h1v1h-1zM1254 243h1v1h-1zM796 244h2v1h-2zM1255 244h1v1h-1zM795 245h1v1h-1zM1256 245h2v1h-2zM794 246h1v1h-1zM1258 246h1v1h-1zM792 247h2v1h-2zM1259 247h2v1h-2zM791 248h1v1h-1zM1261 248h1v1h-1zM790 249h1v1h-1zM1262 249h2v1h-2zM788 250h2v1h-2zM1264 250h2v1h-2zM787 251h1v1h-1zM1266 251h1v1h-1zM786 252h1v1h-1zM1267 252h1v1h-1zM784 253h2v1h-2zM1268 253h2v1h-2zM783 254h1v1h-1zM1270 254h1v1h-1zM782 255h1v1h-1zM1271 255h1v1h-1zM780 256h2v1h-2zM1272 256h2v1h-2zM779 257h1v1h-1zM1274 257h1v1h-1zM778 258h1v1h-1zM1275 258h2v1h-2zM776 259h2v1h-2zM1277 259h1v1h-1zM774 260h2v1h-2zM1278 260h2v1h-2zM773 261h1v1h-1zM1280 261h2v1h-2zM771 262h2v1h-2zM1282 262h1v1h-1zM770 263h1v1h-1zM1283 263h2v1h-2zM768 264h2v1h-2zM1285 264h2v1h-2zM767 265h1v1h-1zM1287 265h2v1h-2zM766 266h1v1h-1zM1289 266h2v1h-2zM764 267h2v1h-2zM1291 267h2v1h-2zM763 268h1v1h-1zM1293 268h1v1h-1zM762 269h1v1h-1zM1294 269h2v1h-2zM760 270h2v1h-2zM1296 270h2v1h-2zM758 271h2v1h-2zM1298 271h1v1h-1zM757 272h1v1h-1zM1299 272h2v1h-2zM755 273h2v1h-2zM1301 273h1v1h-1zM754 274h1v1h-1zM1302 274h2v1h-2zM752 275h2v1h-2zM1304 275h2v1h-2zM751 276h1v1h-1zM1306 276h1v1h-1zM750 277h1v1h-1zM1307 277h1v1h-1zM748 278h2v1h-2zM1308 278h2v1h-2zM747 279h1v1h-1zM1310 279h1v1h-1zM746 280h1v1h-1zM1311 280h1v1h-1zM744 281h2v1h-2zM1312 281h2v1h-2zM742 282h2v1h-2zM1314 282h1v1h-1zM741 283h1v1h-1zM1315 283h1v1h-1zM739 284h2v1h-2zM1316 284h2v1h-2zM738 285h1v1h-1zM1318 285h1v1h-1zM736 286h2v1h-2zM1319 286h1v1h-1zM734 287h2v1h-2zM1320 287h2v1h-2zM733 288h1v1h-1zM1322 288h1v1h-1zM731 289h2v1h-2zM1323 289h1v1h-1zM730 290h1v1h-1zM1324 290h2v1h-2zM728 291h2v1h-2zM1326 291h1v1h-1zM726 292h2v1h-2zM1327 292h1v1h-1zM725 293h1v1h-1zM1328 293h2v1h-2zM723 294h2v1h-2zM722 295h1v1h-1zM720 296h2v1h-2zM719 297h1v1h-1zM718 298h1v1h-1zM716 299h2v1h-2zM715 300h1v1h-1zM714 301h1v1h-1zM712 302h2v1h-2zM710 303h2v1h-2zM709 304h1v1h-1zM707 305h2v1h-2zM706 306h1v1h-1zM704 307h2v1h-2zM702 308h2v1h-2zM701 309h1v1h-1zM699 310h2v1h-2zM698 311h1v1h-1zM696 312h2v1h-2zM695 313h1v1h-1zM694 314h1v1h-1zM692 315h2v1h-2zM691 316h1v1h-1zM690 317h1v1h-1zM688 318h2v1h-2zM687 319h1v1h-1zM686 320h1v1h-1zM684 321h2v1h-2zM683 322h1v1h-1zM682 323h1v1h-1zM680 324h2v1h-2zM678 325h2v1h-2zM677 326h1v1h-1zM675 327h2v1h-2zM673 328h2v1h-2zM671 329h2v1h-2zM669 330h2v1h-2zM667 331h2v1h-2zM665 332h2v1h-2zM663 333h2v1h-2zM661 334h2v1h-2zM659 335h2v1h-2zM657 336h2v1h-2zM654 337h3v1h-3zM652 338h2v1h-2zM649 339h3v1h-3zM646 340h3v1h-3zM644 341h2v1h-2zM641 342h3v1h-3zM639 343h2v1h-2zM637 344h2v1h-2zM635 345h2v1h-2zM632 346h3v1h-3zM628 347h4v1h-4zM624 348h4v1h-4zM620 349h4v1h-4zM617 350h3v1h-3zM614 351h3v1h-3zM612 352h2v1h-2zM609 353h3v1h-3zM606 354h3v1h-3zM604 355h2v1h-2zM600 356h4v1h-4zM596 357h4v1h-4zM593 358h3v1h-3zM590 359h3v1h-3zM588 360h2v1h-2zM584 361h4v1h-4zM580 362h4v1h-4zM576 363h4v1h-4zM572 364h4v1h-4zM569 365h3v1h-3zM566 366h3v1h-3zM564 367h2v1h-2zM560 368h4v1h-4zM556 369h4v1h-4zM552 370h4v1h-4zM548 371h4v1h-4zM544 372h4v1h-4zM358 373h40v1h-40zM540 373h4v1h-4zM342 374h16v1h-16zM398 374h6v1h-6zM534 374h6v1h-6zM336 375h6v1h-6zM404 375h4v1h-4zM526 375h8v1h-8zM332 376h4v1h-4zM408 376h14v1h-14zM518 376h8v1h-8zM326 377h6v1h-6zM422 377h8v1h-8zM502 377h16v1h-16zM320 378h6v1h-6zM430 378h72v1h-72zM316 379h4v1h-4zM312 380h4v1h-4zM308 381h4v1h-4zM286 382h22v1h-22zM278 383h8v1h-8zM270 384h8v1h-8zM264 385h6v1h-6zM260 386h4v1h-4zM254 387h6v1h-6zM248 388h6v1h-6zM244 389h4v1h-4zM240 390h4v1h-4zM236 391h4v1h-4zM232 392h4v1h-4zM228 393h4v1h-4zM224 394h4v1h-4zM220 395h4v1h-4zM216 396h4v1h-4zM212 397h4v1h-4zM208 398h4v1h-4zM204 399h4v1h-4zM200 400h4v1h-4zM196 401h4v1h-4zM118 402h78v1h-78zM104 403h14v1h-14zM100 404h4v1h-4zM97 405h3v1h-3zM95 406h2v1h-2zM93 407h2v1h-2zM91 408h2v1h-2zM89 409h2v1h-2zM86 410h3v1h-3zM84 411h2v1h-2zM81 412h3v1h-3zM78 413h3v1h-3zM76 414h2v1h-2zM73 415h3v1h-3zM71 416h2v1h-2zM69 417h2v1h-2zM67 418h2v1h-2zM65 419h2v1h-2zM62 420h3v1h-3zM60 421h2v1h-2zM57 422h3v1h-3zM55 423h2v1h-2zM53 424h2v1h-2zM51 425h2v1h-2zM49 426h2v1h-2zM46 427h3v1h-3zM44 428h2v1h-2zM41 429h3v1h-3zM38 430h3v1h-3zM36 431h2v1h-2zM33 432h3v1h-3zM30 433h3v1h-3zM28 434h2v1h-2zM25 435h3v1h-3zM22 436h3v1h-3zM20 437h2v1h-2zM16 438h4v1h-4zM12 439h4v1h-4zM8 440h4v1h-4zM4 441h4v1h-4zM2 442h2v1h-2z" fill="#ff00ff"/>
<path d="M1262 307h56v1h-56zM1246 308h16v1h-16zM1318 308h12v1h-12zM1230 309h16v1h-16zM1216 310h14v1h-14zM1212 311h4v1h-4zM1206 312h6v1h-6zM1198 313h8v1h-8zM1190 314h8v1h-8zM1182 315h8v1h-8zM1166 316h16v1h-16zM1150 317h16v1h-16zM1134 318h16v1h-16zM1126 319h8v1h-8zM1110 320h16v1h-16zM1102 321h8v1h-8zM1094 322h8v1h-8zM1078 323h16v1h-16zM1070 324h8v1h-8zM1054 325h16v1h-16zM1046 326h8v1h-8zM1038 327h8v1h-8zM1030 328h8v1h-8zM1022 329h8v1h-8zM1016 330h6v1h-6zM1012 331h4v1h-4zM1006 332h6v1h-6zM1000 333h6v1h-6zM996 334h4v1h-4zM992 335h4v1h-4zM988 336h4v1h-4zM984 337h4v1h-4zM980 338h4v1h-4zM976 339h4v1h-4zM972 340h4v1h-4zM968 341h4v1h-4zM964 342h4v1h-4zM960 343h4v1h-4zM956 344h4v1h-4zM952 345h4v1h-4zM948 346h4v1h-4zM944 347h4v1h-4zM940 348h4v1h-4zM936 349h4v1h-4zM932 350h4v1h-4zM928 351h4v1h-4zM924 352h4v1h-4zM920 353h4v1h-4zM916 354h4v1h-4zM913 355h3v1h-3zM910 356h3v1h-3zM908 357h2v1h-2zM904 358h4v1h-4zM900 359h4v1h-4zM896 360h4v1h-4zM892 361h4v1h-4zM888 362h4v1h-4zM884 363h4v1h-4zM880 364h4v1h-4zM876 365h4v1h-4zM872 366h4v1h-4zM868 367h4v1h-4zM864 368h4v1h-4zM860 369h4v1h-4zM856 370h4v1h-4zM852 371h4v1h-4zM849 372h3v1h-3zM846 373h3v1h-3zM844 374h2v1h-2zM840 375h4v1h-4zM836 376h4v1h-4zM832 377h4v1h-4zM828 378h4v1h-4zM825 379h3v1h-3zM822 380h3v1h-3zM820 381h2v1h-2zM817 382h3v1h-3zM814 383h3v1h-3zM812 384h2v1h-2zM809 385h3v1h-3zM806 386h3v1h-3zM804 387h2v1h-2zM800 388h4v1h-4zM796 389h4v1h-4zM793 390h3v1h-3zM790 391h3v1h-3zM788 392h2v1h-2zM785 393h3v1h-3zM782 394h3v1h-3zM780 395h2v1h-2zM776 396h4v1h-4zM772 397h4v1h-4zM769 398h3v1h-3zM766 399h3v1h-3zM764 400h2v1h-2zM760 401h4v1h-4zM756 402h4v1h-4zM753 403h3v1h-3zM750 404h3v1h-3zM748 405h2v1h-2zM744 406h4v1h-4zM740 407h4v1h-4zM737 408h3v1h-3zM734 409h3v1h-3zM732 410h2v1h-2zM728 411h4v1h-4zM724 412h4v1h-4zM720 413h4v1h-4zM716 414h4v1h-4zM713 415h3v1h-3zM710 416h3v1h-3zM708 417h2v1h-2zM704 418h4v1h-4zM700 419h4v1h-4zM696 420h4v1h-4zM692 421h4v1h-4zM688 422h4v1h-4zM684 423h4v1h-4zM680 424h4v1h-4zM676 425h4v1h-4zM672 426h4v1h-4zM668 427h4v1h-4zM665 428h3v1h-3zM662 429h3v1h-3zM660 430h2v1h-2zM656 431h4v1h-4zM652 432h4v1h-4zM648 433h4v1h-4zM644 434h4v1h-4zM640 435h4v1h-4zM636 436h4v1h-4zM632 437h4v1h-4zM628 438h4v1h-4zM622 439h6v1h-6zM616 440h6v1h-6zM612 441h4v1h-4zM600 442h12v1h-12zM596 443h4v1h-4zM590 444h6v1h-6zM582 445h8v1h-8zM576 446h6v1h-6zM572 447h4v1h-4zM566 448h6v1h-6zM558 449h8v1h-8zM550 450h8v1h-8zM542 451h8v1h-8zM534 452h8v1h-8zM518 453h16v1h-16zM510 454h8v1h-8zM502 455h8v1h-8zM494 456h8v1h-8zM478 457h16v1h-16zM470 458h8v1h-8zM454 459h16v1h-16zM446 460h8v1h-8zM430 461h16v1h-16zM406 462h24v1h-24zM390 463h16v1h-16zM102 464h32v1h-32zM190 464h96v1h-96zM382 464h8v1h-8zM2 465h4v1h-4zM70 465h32v1h-32zM134 465h56v1h-56zM286 465h8v1h-8zM366 465h16v1h-16zM6 466h64v1h-64zM294 466h72v1h-72z" fill="#ff0000"/>
<rect x="2" y="280" width="1680" height="2" fill="#ff0000"/>
<rect x="2" y="341" width="1680" height="2" fill="#ff0000"/>
<rect x="2" y="402" width="1680" height="2" fill="#32cd32"/>
</g>
<polygon points="1340,3 1349,3 1344.5,8" fill="#778899"/>
<g clip-path="url(#cd)" shape-rendering="crispEdges">
<rect x="2" y="586" width="1" height="16" fill="#c0c0c0"/>
<rect x="10" y="584" width="1" height="18" fill="#c0c0c0"/>
<rect x="18" y="585" width="1" height="17" fill="#c0c0c0"/>
<rect x="26" y="583" width="1" height="19" fill="#c0c0c0"/>
<rect x="34" y="582" width="1" height="20" fill="#c0c0c0"/>
<rect x="42" y="579" width="1" height="23" fill="#c0c0c0"/>
<rect x="50" y="577" width="1" height="25" fill="#c0c0c0"/>
<rect x="58" y="575" width="1" height="27" fill="#c0c0c0"/>
<rect x="66" y="572" width="1" height="30" fill="#c0c0c0"/>
<rect x="74" y="570" width="1" height="32" fill="#c0c0c0"/>
<rect x="82" y="568" width="1" height="34" fill="#c0c0c0"/>
<rect x="90" y="569" width="1" height="33" fill="#c0c0c0"/>
<rect x="98" y="571" width="1" height="31" fill="#c0c0c0"/>
<rect x="106" y="571" width="1" height="31" fill="#c0c0c0"/>
<rect x="114" y="578" width="1" height="24" fill="#c0c0c0"/>
<rect x="122" y="581" width="1" height="21" fill="#c0c0c0"/>
<rect x="130" y="584" width="1" height="18" fill="#c0c0c0"/>
<rect x="138" y="589" width="1" height="13" fill="#c0c0c0"/>
<rect x="146" y="593" width="1" height="9" fill="#c0c0c0"/>
<rect x="154" y="595" width="1" height="7" fill="#c0c0c0"/>
<rect x="162" y="595" width="1" height="7" fill="#c0c0c0"/>
<rect x="170" y="594" width="1" height="8" fill="#c0c0c0"/>
<rect x="178" y="594" width="1" height="8" fill="#c0c0c0"/>
<rect x="186" y="593" width="1" height="9" fill="#c0c0c0"/>
<rect x="194" y="592" width="1" height="10" fill="#c0c0c0"/>
<rect x="202" y="590" width="1" height="12" fill="#c0c0c0"/>
<rect x="210" y="590" width="1" height="12" fill="#c0c0c0"/>
<rect x="218" y="592" width="1" height="10" fill="#c0c0c0"/>
<rect x="226" y="591" width="1" height="11" fill="#c0c0c0"/>
<rect x="234" y="592" width="1" height="10" fill="#c0c0c0"/>
<rect x="242" y="594" width="1" height="8" fill="#c0c0c0"/>
<rect x="250" y="596" width="1" height="6" fill="#c0c0c0"/>
<rect x="258" y="601" width="1" height="2" fill="#c0c0c0"/>
<rect x="266" y="601" width="1" height="6" fill="#c0c0c0"/>
<rect x="274" y="601" width="1" height="10" fill="#c0c0c0"/>
<rect x="282" y="601" width="1" height="12" fill="#c0c0c0"/>
<rect x="290" y="601" width="1" height="14" fill="#c0c0c0"/>
<rect x="298" y="601" width="1" height="13" fill="#c0c0c0"/>
<rect x="306" y="601" width="1" height="10" fill="#c0c0c0"/>
<rect x="314" y="601" width="1" height="8" fill="#c0c0c0"/>
<rect x="322" y="601" width="1" height="7" fill="#c0c0c0"/>
<rect x="330" y="601" width="1" height="6" fill="#c0c0c0"/>
<rect x="338" y="601" width="1" height="4" fill="#c0c0c0"/>
<rect x="346" y="601" width="1" height="4" fill="#c0c0c0"/>
<rect x="354" y="601" width="1" height="4" fill="#c0c0c0"/>
<rect x="362" y="601" width="1" height="5" fill="#c0c0c0"/>
<rect x="370" y="601" width="1" height="5" fill="#c0c0c0"/>
<rect x="378" y="601" width="1" height="7" fill="#c0c0c0"/>
<rect x="386" y="601" width="1" height="9" fill="#c0c0c0"/>
<rect x="394" y="601" width="1" height="10" fill="#c0c0c0"/>
<rect x="402" y="601" width="1" height="18" fill="#c0c0c0"/>
<rect x="410" y="601" width="1" height="20" fill="#c0c0c0"/>
<rect x="418" y="601" width="1" height="20" fill="#c0c0c0"/>
<rect x="426" y="601" width="1" height="21" fill="#c0c0c0"/>
<rect x="434" y="601" width="1" height="21" fill="#c0c0c0"/>
<rect x="442" y="601" width="1" height="19" fill="#c0c0c0"/>
<rect x="450" y="601" width="1" height="13" fill="#c0c0c0"/>
<rect x="458" y="601" width="1" height="8" fill="#c0c0c0"/>
<rect x="466" y="601" width="1" height="4" fill="#c0c0c0"/>
<rect x="474" y="601" width="1" height="1" fill="#c0c0c0"/>
<rect x="482" y="599" width="1" height="3" fill="#c0c0c0"/>
<rect x="490" y="597" width="1" height="5" fill="#c0c0c0"/>
<rect x="498" y="590" width="1" height="12" fill="#c0c0c0"/>
<rect x="506" y="582" width="1" height="20" fill="#c0c0c0"/>
<rect x="514" y="576" width="1" height="26" fill="#c0c0c0"/>
<rect x="522" y="570" width="1" height="32" fill="#c0c0c0"/>
<rect x="530" y="567" width="1" height="35" fill="#c0c0c0"/>
<rect x="538" y="565" width="1" height="37" fill="#c0c0c0"/>
<rect x="546" y="562" width="1" height="40" fill="#c0c0c0"/>
<rect x="554" y="559" width="1" height="43" fill="#c0c0c0"/>
<rect x="562" y="557" width="1" height="45" fill="#c0c0c0"/>
<rect x="570" y="557" width="1" height="45" fill="#c0c0c0"/>
<rect x="578" y="558" width="1" height="44" fill="#c0c0c0"/>
<rect x="586" y="558" width="1" height="44" fill="#c0c0c0"/>
<rect x="594" y="558" width="1" height="44" fill="#c0c0c0"/>
<rect x="602" y="557" width="1" height="45" fill="#c0c0c0"/>
<rect x="610" y="558" width="1" height="44" fill="#c0c0c0"/>
<rect x="618" y="558" width="1" height="44" fill="#c0c0c0"/>
<rect x="626" y="561" width="1" height="41" fill="#c0c0c0"/>
<rect x="634" y="563" width="1" height="39" fill="#c0c0c0"/>
<rect x="642" y="556" width="1" height="46" fill="#c0c0c0"/>
<rect x="650" y="552" width="1" height="50" fill="#c0c0c0"/>
<rect x="658" y="549" width="1" height="53" fill="#c0c0c0"/>
<rect x="666" y="547" width="1" height="55" fill="#c0c0c0"/>
<rect x="674" y="543" width="1" height="59" fill="#c0c0c0"/>
<rect x="682" y="538" width="1" height="64" fill="#c0c0c0"/>
<rect x="690" y="536" width="1" height="66" fill="#c0c0c0"/>
<rect x="698" y="535" width="1" height="67" fill="#c0c0c0"/>
<rect x="706" y="535" width="1" height="67" fill="#c0c0c0"/>
<rect x="714" y="538" width="1" height="64" fill="#c0c0c0"/>
<rect x="722" y="541" width="1" height="61" fill="#c0c0c0"/>
<rect x="730" y="547" width="1" height="55" fill="#c0c0c0"/>
<rect x="738" y="547" width="1" height="55" fill="#c0c0c0"/>
<rect x="746" y="547" width="1" height="55" fill="#c0c0c0"/>
<rect x="754" y="547" width="1" height="55" fill="#c0c0c0"/>
<rect x="762" y="551" width="1" height="51" fill="#c0c0c0"/>
<rect x="770" y="553" width="1" height="49" fill="#c0c0c0"/>
<rect x="778" y="554" width="1" height="48" fill="#c0c0c0"/>
<rect x="786" y="557" width="1" height="45" fill="#c0c0c0"/>
<rect x="794" y="557" width="1" height="45" fill="#c0c0c0"/>
<rect x="802" y="559" width="1" height="43" fill="#c0c0c0"/>
<rect x="810" y="560" width="1" height="42" fill="#c0c0c0"/>
<rect x="818" y="562" width="1" height="40" fill="#c0c0c0"/>
<rect x="826" y="561" width="1" height="41" fill="#c0c0c0"/>
<rect x="834" y="565" width="1" height="37" fill="#c0c0c0"/>
<rect x="842" y="572" width="1" height="30" fill="#c0c0c0"/>
<rect x="850" y="578" width="1" height="24" fill="#c0c0c0"/>
<rect x="858" y="582" width="1" height="20" fill="#c0c0c0"/>
<rect x="866" y="585" width="1" height="17" fill="#c0c0c0"/>
<rect x="874" y="585" width="1" height="17" fill="#c0c0c0"/>
<rect x="882" y="585" width="1" height="17" fill="#c0c0c0"/>
<rect x="890" y="584" width="1" height="18" fill="#c0c0c0"/>
<rect x="898" y="583" width="1" height="19" fill="#c0c0c0"/>
<rect x="906" y="583" width="1" height="19" fill="#c0c0c0"/>
<rect x="914" y="583" width="1" height="19" fill="#c0c0c0"/>
<rect x="922" y="584" width="1" height="18" fill="#c0c0c0"/>
<rect x="930" y="586" width="1" height="16" fill="#c0c0c0"/>
<rect x="938" y="589" width="1" height="13" fill="#c0c0c0"/>
<rect x="946" y="591" width="1" height="11" fill="#c0c0c0"/>
<rect x="954" y="591" width="1" height="11" fill="#c0c0c0"/>
<rect x="962" y="593" width="1" height="9" fill="#c0c0c0"/>
<rect x="970" y="594" width="1" height="8" fill="#c0c0c0"/>
<rect x="978" y="595" width="1" height="7" fill="#c0c0c0"/>
<rect x="986" y="599" width="1" height="3" fill="#c0c0c0"/>
<rect x="994" y="601" width="1" height="3" fill="#c0c0c0"/>
<rect x="1002" y="601" width="1" height="6" fill="#c0c0c0"/>
<rect x="1010" y="601" width="1" height="10" fill="#c0c0c0"/>
<rect x="1018" y="601" width="1" height="13" fill="#c0c0c0"/>
<rect x="1026" y="601" width="1" height="25" fill="#c0c0c0"/>
<rect x="1034" y="601" width="1" height="39" fill="#c0c0c0"/>
<rect x="1042" y="601" width="1" height="47" fill="#c0c0c0"/>
<rect x="1050" y="601" width="1" height="54" fill="#c0c0c0"/>
<rect x="1058" y="601" width="1" height="59" fill="#c0c0c0"/>
<rect x="1066" y="601" width="1" height="67" fill="#c0c0c0"/>
<rect x="1074" y="601" width="1" height="75" fill="#c0c0c0"/>
<rect x="1082" y="601" width="1" height="80" fill="#c0c0c0"/>
<rect x="1090" y="601" width="1" height="82" fill="#c0c0c0"/>
<rect x="1098" y="601" width="1" height="82" fill="#c0c0c0"/>
<rect x="1106" y="601" width="1" height="80" fill="#c0c0c0"/>
<rect x="1114" y="601" width="1" height="81" fill="#c0c0c0"/>
<rect x="1122" y="601" width="1" height="81" fill="#c0c0c0"/>
<rect x="1130" y="601" width="1" height="81" fill="#c0c0c0"/>
<rect x="1138" y="601" width="1" height="77" fill="#c0c0c0"/>
<rect x="1146" y="601" width="1" height="73" fill="#c0c0c0"/>
<rect x="1154" y="601" width="1" height="69" fill="#c0c0c0"/>
<rect x="1162" y="601" width="1" height="65" fill="#c0c0c0"/>
<rect x="1170" y="601" width="1" height="62" fill="#c0c0c0"/>
<rect x="1178" y="601" width="1" height="60" fill="#c0c0c0"/>
<rect x="1186" y="601" width="1" height="55" fill="#c0c0c0"/>
<rect x="1194" y="601" width="1" height="50" fill="#c0c0c0"/>
<rect x="1202" y="601" width="1" height="41" fill="#c0c0c0"/>
<rect x="1210" y="601" width="1" height="32" fill="#c0c0c0"/>
<rect x="1218" y="601" width="1" height="30" fill="#c0c0c0"/>
<rect x="1226" y="601" width="1" height="31" fill="#c0c0c0"/>
<rect x="1234" y="601" width="1" height="29" fill="#c0c0c0"/>
<rect x="1242" y="601" width="1" height="28" fill="#c0c0c0"/>
<rect x="1250" y="601" width="1" height="26" fill="#c0c0c0"/>
<rect x="1258" y="601" width="1" height="25" fill="#c0c0c0"/>
<rect x="1266" y="601" width="1" height="26" fill="#c0c0c0"/>
<rect x="1274" y="601" width="1" height="28" fill="#c0c0c0"/>
<rect x="1282" y="601" width="1" height="28" fill="#c0c0c0"/>
<rect x="1290" y="601" width="1" height="28" fill="#c0c0c0"/>
<rect x="1298" y="601" width="1" height="25" fill="#c0c0c0"/>
<rect x="1306" y="601" width="1" height="23" fill="#c0c0c0"/>
<rect x="1314" y="601" width="1" height="24" fill="#c0c0c0"/>
<rect x="1322" y="601" width="1" height="26" fill="#c0c0c0"/>
<rect x="1330" y="601" width="1" height="30" fill="#c0c0c0"/>
<path d="M722 539h3v1h-3zM728 539h3v1h-3zM734 539h3v1h-3zM740 539h2v1h-2zM716 540h3v1h-3zM742 540h1v1h-1zM746 540h3v1h-3zM710 541h3v1h-3zM752 541h3v1h-3zM705 542h2v1h-2zM758 542h3v1h-3zM704 543h1v1h-1zM764 543h3v1h-3zM770 544h2v1h-2zM699 545h2v1h-2zM772 545h1v1h-1zM698 546h1v1h-1zM776 546h3v1h-3zM692 547h3v1h-3zM782 547h2v1h-2zM784 548h1v1h-1zM686 549h3v1h-3zM788 549h3v1h-3zM794 550h2v1h-2zM680 551h3v1h-3zM796 551h1v1h-1zM676 552h1v1h-1zM800 552h3v1h-3zM674 553h2v1h-2zM806 553h3v1h-3zM668 554h3v1h-3zM812 554h3v1h-3zM662 555h3v1h-3zM818 555h3v1h-3zM656 556h3v1h-3zM824 556h3v1h-3zM608 557h3v1h-3zM614 557h3v1h-3zM620 557h3v1h-3zM626 557h3v1h-3zM646 557h1v1h-1zM650 557h3v1h-3zM830 557h3v1h-3zM602 558h3v1h-3zM632 558h3v1h-3zM638 558h3v1h-3zM644 558h2v1h-2zM836 558h3v1h-3zM596 559h3v1h-3zM842 559h2v1h-2zM590 560h3v1h-3zM844 560h1v1h-1zM584 561h3v1h-3zM848 561h1v1h-1zM580 562h1v1h-1zM849 562h2v1h-2zM578 563h2v1h-2zM854 563h2v1h-2zM574 564h1v1h-1zM856 564h1v1h-1zM572 565h2v1h-2zM860 565h2v1h-2zM862 566h1v1h-1zM567 567h2v1h-2zM866 567h2v1h-2zM566 568h1v1h-1zM868 568h1v1h-1zM872 569h1v1h-1zM561 570h2v1h-2zM873 570h2v1h-2zM104 571h3v1h-3zM110 571h3v1h-3zM116 571h2v1h-2zM560 571h1v1h-1zM100 572h1v1h-1zM118 572h1v1h-1zM122 572h3v1h-3zM556 572h1v1h-1zM878 572h3v1h-3zM94 573h1v1h-1zM98 573h2v1h-2zM128 573h3v1h-3zM554 573h2v1h-2zM88 574h1v1h-1zM92 574h2v1h-2zM134 574h2v1h-2zM884 574h2v1h-2zM86 575h2v1h-2zM136 575h1v1h-1zM550 575h1v1h-1zM886 575h1v1h-1zM80 576h3v1h-3zM140 576h3v1h-3zM549 576h1v1h-1zM890 576h2v1h-2zM76 577h1v1h-1zM146 577h2v1h-2zM548 577h1v1h-1zM892 577h1v1h-1zM70 578h1v1h-1zM74 578h2v1h-2zM148 578h1v1h-1zM896 578h1v1h-1zM64 579h1v1h-1zM68 579h2v1h-2zM152 579h1v1h-1zM544 579h1v1h-1zM897 579h2v1h-2zM62 580h2v1h-2zM153 580h2v1h-2zM542 580h2v1h-2zM902 580h3v1h-3zM908 580h2v1h-2zM56 581h3v1h-3zM910 581h1v1h-1zM914 581h2v1h-2zM52 582h1v1h-1zM158 582h3v1h-3zM916 582h1v1h-1zM46 583h1v1h-1zM50 583h2v1h-2zM537 583h2v1h-2zM920 583h3v1h-3zM926 583h3v1h-3zM932 583h3v1h-3zM938 583h3v1h-3zM40 584h1v1h-1zM44 584h2v1h-2zM164 584h3v1h-3zM536 584h1v1h-1zM944 584h3v1h-3zM38 585h2v1h-2zM170 585h2v1h-2zM950 585h3v1h-3zM956 585h2v1h-2zM32 586h3v1h-3zM172 586h1v1h-1zM531 586h2v1h-2zM958 586h1v1h-1zM962 586h3v1h-3zM22 587h1v1h-1zM26 587h3v1h-3zM176 587h1v1h-1zM530 587h1v1h-1zM968 587h3v1h-3zM8 588h3v1h-3zM14 588h3v1h-3zM20 588h2v1h-2zM177 588h2v1h-2zM974 588h3v1h-3zM2 589h3v1h-3zM182 589h3v1h-3zM526 589h1v1h-1zM980 589h3v1h-3zM188 590h3v1h-3zM525 590h1v1h-1zM986 590h2v1h-2zM194 591h3v1h-3zM200 591h3v1h-3zM224 591h3v1h-3zM230 591h3v1h-3zM236 591h3v1h-3zM242 591h3v1h-3zM248 591h3v1h-3zM524 591h1v1h-1zM988 591h1v1h-1zM206 592h3v1h-3zM212 592h3v1h-3zM218 592h3v1h-3zM254 592h3v1h-3zM992 592h1v1h-1zM260 593h3v1h-3zM520 593h1v1h-1zM993 593h2v1h-2zM266 594h2v1h-2zM519 594h1v1h-1zM998 594h2v1h-2zM268 595h1v1h-1zM518 595h1v1h-1zM1000 595h1v1h-1zM272 596h1v1h-1zM1004 596h2v1h-2zM273 597h2v1h-2zM1006 597h1v1h-1zM278 598h2v1h-2zM513 598h2v1h-2zM1010 598h2v1h-2zM280 599h1v1h-1zM512 599h1v1h-1zM1012 599h1v1h-1zM284 600h3v1h-3zM1016 600h3v1h-3zM290 601h1v1h-1zM507 601h2v1h-2zM291 602h2v1h-2zM506 602h1v1h-1zM1022 602h1v1h-1zM1023 603h2v1h-2zM296 604h1v1h-1zM501 604h2v1h-2zM297 605h2v1h-2zM500 605h1v1h-1zM302 606h2v1h-2zM374 606h3v1h-3zM380 606h2v1h-2zM1028 606h2v1h-2zM304 607h1v1h-1zM368 607h3v1h-3zM382 607h1v1h-1zM386 607h3v1h-3zM392 607h3v1h-3zM495 607h2v1h-2zM1030 607h1v1h-1zM308 608h3v1h-3zM358 608h1v1h-1zM362 608h3v1h-3zM398 608h3v1h-3zM494 608h1v1h-1zM314 609h3v1h-3zM344 609h3v1h-3zM350 609h3v1h-3zM356 609h2v1h-2zM404 609h3v1h-3zM320 610h3v1h-3zM326 610h3v1h-3zM332 610h3v1h-3zM338 610h3v1h-3zM410 610h2v1h-2zM489 610h2v1h-2zM1034 610h1v1h-1zM412 611h1v1h-1zM488 611h1v1h-1zM1035 611h2v1h-2zM416 612h3v1h-3zM484 612h1v1h-1zM422 613h2v1h-2zM482 613h2v1h-2zM424 614h1v1h-1zM476 614h3v1h-3zM1040 614h2v1h-2zM428 615h3v1h-3zM472 615h1v1h-1zM1042 615h1v1h-1zM434 616h3v1h-3zM470 616h2v1h-2zM440 617h3v1h-3zM464 617h3v1h-3zM446 618h3v1h-3zM452 618h3v1h-3zM458 618h3v1h-3zM1046 619h2v1h-2zM1048 620h1v1h-1zM1052 624h1v1h-1zM1053 625h1v1h-1zM1054 626h1v1h-1zM1304 627h3v1h-3zM1310 627h3v1h-3zM1316 627h3v1h-3zM1322 627h3v1h-3zM1294 628h1v1h-1zM1298 628h3v1h-3zM1328 628h2v1h-2zM1058 629h1v1h-1zM1274 629h3v1h-3zM1280 629h3v1h-3zM1286 629h3v1h-3zM1292 629h2v1h-2zM1059 630h1v1h-1zM1268 630h3v1h-3zM1060 631h1v1h-1zM1264 631h1v1h-1zM1262 632h2v1h-2zM1257 633h2v1h-2zM1064 634h1v1h-1zM1256 634h1v1h-1zM1065 635h1v1h-1zM1066 636h1v1h-1zM1251 636h2v1h-2zM1250 637h1v1h-1zM1246 638h1v1h-1zM1244 639h2v1h-2zM1070 640h1v1h-1zM1071 641h1v1h-1zM1239 641h2v1h-2zM1072 642h1v1h-1zM1238 642h1v1h-1zM1233 644h2v1h-2zM1232 645h1v1h-1zM1076 646h1v1h-1zM1077 647h1v1h-1zM1227 647h2v1h-2zM1078 648h1v1h-1zM1226 648h1v1h-1zM1221 650h2v1h-2zM1220 651h1v1h-1zM1082 652h1v1h-1zM1083 653h1v1h-1zM1216 653h1v1h-1zM1084 654h1v1h-1zM1214 654h2v1h-2zM1088 657h1v1h-1zM1210 657h1v1h-1zM1089 658h1v1h-1zM1208 658h2v1h-2zM1090 659h1v1h-1zM1203 661h2v1h-2zM1094 662h1v1h-1zM1202 662h1v1h-1zM1095 663h1v1h-1zM1096 664h1v1h-1zM1198 664h1v1h-1zM1197 665h1v1h-1zM1100 666h1v1h-1zM1196 666h1v1h-1zM1101 667h1v1h-1zM1102 668h1v1h-1zM1190 668h3v1h-3zM1106 670h1v1h-1zM1185 670h2v1h-2zM1107 671h2v1h-2zM1184 671h1v1h-1zM1180 672h1v1h-1zM1112 673h1v1h-1zM1178 673h2v1h-2zM1113 674h2v1h-2zM1172 674h3v1h-3zM1118 676h3v1h-3zM1166 676h3v1h-3zM1124 678h2v1h-2zM1160 678h3v1h-3zM1126 679h1v1h-1zM1150 679h1v1h-1zM1154 679h3v1h-3zM1130 680h3v1h-3zM1142 680h3v1h-3zM1148 680h2v1h-2zM1136 681h3v1h-3z" fill="#ff0000"/>
</g>
<g clip-path="url(#cr)" shape-rendering="crispEdges">
<line x1="3" y1="731.5" x2="1682" y2="731.5" stroke="#c0c0c0" stroke-dasharray="3 3"/>
<line x1="3" y1="780.5" x2="1682" y2="780.5" stroke="#c0c0c0" stroke-dasharray="3 3"/>
<path d="M681 720h3v1h-3zM678 721h3v1h-3zM684 721h2v1h-2zM642 722h1v1h-1zM676 722h2v1h-2zM686 722h3v1h-3zM642 723h2v1h-2zM673 723h3v1h-3zM689 723h18v1h-18zM641 724h1v1h-1zM644 724h2v1h-2zM670 724h3v1h-3zM707 724h1v1h-1zM641 725h1v1h-1zM646 725h1v1h-1zM668 725h2v1h-2zM707 725h1v1h-1zM640 726h1v1h-1zM647 726h1v1h-1zM662 726h6v1h-6zM708 726h1v1h-1zM640 727h1v1h-1zM648 727h2v1h-2zM654 727h8v1h-8zM709 727h1v1h-1zM550 728h6v1h-6zM639 728h1v1h-1zM650 728h4v1h-4zM710 728h1v1h-1zM545 729h5v1h-5zM556 729h4v1h-4zM601 729h5v1h-5zM639 729h1v1h-1zM710 729h1v1h-1zM66 730h2v1h-2zM520 730h3v1h-3zM543 730h2v1h-2zM560 730h4v1h-4zM598 730h3v1h-3zM606 730h5v1h-5zM638 730h1v1h-1zM711 730h1v1h-1zM64 731h2v1h-2zM68 731h4v1h-4zM78 731h5v1h-5zM516 731h4v1h-4zM523 731h2v1h-2zM541 731h2v1h-2zM564 731h4v1h-4zM596 731h2v1h-2zM611 731h2v1h-2zM638 731h1v1h-1zM712 731h1v1h-1zM62 732h2v1h-2zM72 732h6v1h-6zM83 732h1v1h-1zM505 732h11v1h-11zM525 732h2v1h-2zM539 732h2v1h-2zM568 732h3v1h-3zM592 732h4v1h-4zM613 732h1v1h-1zM638 732h1v1h-1zM713 732h1v1h-1zM750 732h5v1h-5zM61 733h1v1h-1zM84 733h1v1h-1zM502 733h3v1h-3zM527 733h2v1h-2zM534 733h5v1h-5zM571 733h2v1h-2zM588 733h4v1h-4zM614 733h2v1h-2zM637 733h1v1h-1zM713 733h1v1h-1zM718 733h5v1h-5zM744 733h6v1h-6zM755 733h1v1h-1zM59 734h2v1h-2zM85 734h1v1h-1zM500 734h2v1h-2zM529 734h5v1h-5zM573 734h1v1h-1zM585 734h3v1h-3zM616 734h2v1h-2zM637 734h1v1h-1zM714 734h4v1h-4zM723 734h1v1h-1zM740 734h4v1h-4zM755 734h1v1h-1zM56 735h3v1h-3zM86 735h1v1h-1zM498 735h2v1h-2zM574 735h2v1h-2zM582 735h3v1h-3zM618 735h1v1h-1zM636 735h1v1h-1zM723 735h1v1h-1zM738 735h2v1h-2zM756 735h1v1h-1zM52 736h4v1h-4zM87 736h1v1h-1zM497 736h1v1h-1zM576 736h2v1h-2zM580 736h2v1h-2zM619 736h2v1h-2zM636 736h1v1h-1zM724 736h1v1h-1zM737 736h1v1h-1zM757 736h1v1h-1zM826 736h1v1h-1zM41 737h11v1h-11zM88 737h1v1h-1zM497 737h1v1h-1zM578 737h2v1h-2zM621 737h1v1h-1zM635 737h1v1h-1zM725 737h1v1h-1zM736 737h1v1h-1zM758 737h1v1h-1zM793 737h2v1h-2zM825 737h1v1h-1zM827 737h1v1h-1zM2 738h2v1h-2zM39 738h2v1h-2zM89 738h1v1h-1zM496 738h1v1h-1zM622 738h2v1h-2zM635 738h1v1h-1zM726 738h1v1h-1zM735 738h1v1h-1zM758 738h1v1h-1zM776 738h4v1h-4zM791 738h2v1h-2zM795 738h1v1h-1zM824 738h1v1h-1zM827 738h1v1h-1zM4 739h4v1h-4zM37 739h2v1h-2zM90 739h1v1h-1zM495 739h1v1h-1zM624 739h2v1h-2zM634 739h1v1h-1zM726 739h1v1h-1zM734 739h1v1h-1zM759 739h1v1h-1zM772 739h4v1h-4zM780 739h2v1h-2zM789 739h2v1h-2zM796 739h2v1h-2zM809 739h2v1h-2zM822 739h2v1h-2zM828 739h1v1h-1zM8 740h3v1h-3zM35 740h2v1h-2zM91 740h2v1h-2zM495 740h1v1h-1zM626 740h9v1h-9zM727 740h1v1h-1zM734 740h1v1h-1zM760 740h1v1h-1zM769 740h3v1h-3zM782 740h3v1h-3zM787 740h2v1h-2zM798 740h1v1h-1zM807 740h2v1h-2zM811 740h2v1h-2zM821 740h1v1h-1zM828 740h1v1h-1zM11 741h1v1h-1zM26 741h9v1h-9zM93 741h1v1h-1zM105 741h2v1h-2zM494 741h1v1h-1zM728 741h1v1h-1zM733 741h1v1h-1zM761 741h1v1h-1zM766 741h3v1h-3zM785 741h2v1h-2zM799 741h1v1h-1zM805 741h2v1h-2zM813 741h2v1h-2zM820 741h1v1h-1zM829 741h1v1h-1zM12 742h1v1h-1zM25 742h1v1h-1zM94 742h2v1h-2zM102 742h3v1h-3zM106 742h1v1h-1zM493 742h1v1h-1zM729 742h1v1h-1zM732 742h1v1h-1zM761 742h1v1h-1zM764 742h2v1h-2zM800 742h2v1h-2zM803 742h2v1h-2zM815 742h2v1h-2zM819 742h1v1h-1zM830 742h1v1h-1zM12 743h1v1h-1zM24 743h1v1h-1zM96 743h2v1h-2zM100 743h2v1h-2zM107 743h1v1h-1zM493 743h1v1h-1zM729 743h1v1h-1zM731 743h1v1h-1zM762 743h2v1h-2zM802 743h1v1h-1zM817 743h2v1h-2zM830 743h1v1h-1zM913 743h2v1h-2zM13 744h1v1h-1zM23 744h1v1h-1zM98 744h2v1h-2zM107 744h1v1h-1zM193 744h11v1h-11zM481 744h3v1h-3zM492 744h1v1h-1zM730 744h1v1h-1zM831 744h1v1h-1zM911 744h2v1h-2zM915 744h1v1h-1zM14 745h1v1h-1zM22 745h1v1h-1zM108 745h1v1h-1zM191 745h2v1h-2zM204 745h4v1h-4zM479 745h2v1h-2zM484 745h2v1h-2zM491 745h1v1h-1zM832 745h1v1h-1zM896 745h4v1h-4zM909 745h2v1h-2zM916 745h1v1h-1zM15 746h1v1h-1zM22 746h1v1h-1zM108 746h1v1h-1zM189 746h2v1h-2zM208 746h3v1h-3zM454 746h6v1h-6zM477 746h2v1h-2zM486 746h3v1h-3zM491 746h1v1h-1zM832 746h1v1h-1zM892 746h4v1h-4zM900 746h4v1h-4zM907 746h2v1h-2zM917 746h1v1h-1zM16 747h1v1h-1zM21 747h1v1h-1zM109 747h1v1h-1zM187 747h2v1h-2zM211 747h2v1h-2zM450 747h4v1h-4zM460 747h2v1h-2zM475 747h2v1h-2zM489 747h2v1h-2zM833 747h1v1h-1zM886 747h6v1h-6zM904 747h3v1h-3zM918 747h1v1h-1zM16 748h1v1h-1zM20 748h1v1h-1zM109 748h1v1h-1zM170 748h2v1h-2zM185 748h2v1h-2zM213 748h1v1h-1zM449 748h1v1h-1zM462 748h3v1h-3zM470 748h5v1h-5zM833 748h1v1h-1zM878 748h8v1h-8zM919 748h1v1h-1zM17 749h1v1h-1zM19 749h1v1h-1zM110 749h1v1h-1zM168 749h2v1h-2zM172 749h2v1h-2zM182 749h3v1h-3zM214 749h2v1h-2zM224 749h4v1h-4zM449 749h1v1h-1zM465 749h5v1h-5zM834 749h1v1h-1zM874 749h4v1h-4zM920 749h1v1h-1zM1209 749h2v1h-2zM18 750h1v1h-1zM110 750h1v1h-1zM166 750h2v1h-2zM174 750h3v1h-3zM180 750h2v1h-2zM216 750h2v1h-2zM220 750h4v1h-4zM228 750h2v1h-2zM448 750h1v1h-1zM835 750h1v1h-1zM872 750h2v1h-2zM921 750h1v1h-1zM953 750h2v1h-2zM1206 750h3v1h-3zM1211 750h1v1h-1zM110 751h1v1h-1zM165 751h1v1h-1zM177 751h3v1h-3zM218 751h2v1h-2zM230 751h3v1h-3zM337 751h2v1h-2zM447 751h1v1h-1zM836 751h1v1h-1zM870 751h2v1h-2zM922 751h2v1h-2zM951 751h2v1h-2zM955 751h1v1h-1zM1204 751h2v1h-2zM1211 751h1v1h-1zM111 752h1v1h-1zM163 752h2v1h-2zM233 752h3v1h-3zM335 752h2v1h-2zM339 752h1v1h-1zM446 752h1v1h-1zM837 752h1v1h-1zM869 752h1v1h-1zM924 752h2v1h-2zM949 752h2v1h-2zM956 752h1v1h-1zM970 752h2v1h-2zM1202 752h2v1h-2zM1212 752h1v1h-1zM111 753h1v1h-1zM161 753h2v1h-2zM236 753h2v1h-2zM306 753h4v1h-4zM333 753h2v1h-2zM340 753h2v1h-2zM446 753h1v1h-1zM838 753h1v1h-1zM867 753h2v1h-2zM926 753h3v1h-3zM947 753h2v1h-2zM957 753h1v1h-1zM968 753h2v1h-2zM972 753h4v1h-4zM1201 753h1v1h-1zM1212 753h1v1h-1zM112 754h1v1h-1zM159 754h2v1h-2zM238 754h3v1h-3zM305 754h1v1h-1zM310 754h16v1h-16zM331 754h2v1h-2zM342 754h1v1h-1zM445 754h1v1h-1zM838 754h1v1h-1zM864 754h3v1h-3zM929 754h5v1h-5zM942 754h5v1h-5zM958 754h2v1h-2zM966 754h2v1h-2zM976 754h3v1h-3zM1201 754h1v1h-1zM1213 754h1v1h-1zM112 755h1v1h-1zM121 755h10v1h-10zM157 755h2v1h-2zM241 755h2v1h-2zM304 755h1v1h-1zM326 755h5v1h-5zM343 755h1v1h-1zM444 755h1v1h-1zM839 755h1v1h-1zM860 755h4v1h-4zM934 755h8v1h-8zM960 755h1v1h-1zM965 755h1v1h-1zM979 755h1v1h-1zM1200 755h1v1h-1zM1214 755h1v1h-1zM113 756h1v1h-1zM119 756h2v1h-2zM131 756h2v1h-2zM155 756h2v1h-2zM243 756h2v1h-2zM303 756h1v1h-1zM344 756h2v1h-2zM443 756h1v1h-1zM840 756h1v1h-1zM857 756h3v1h-3zM961 756h1v1h-1zM963 756h2v1h-2zM979 756h1v1h-1zM1200 756h1v1h-1zM1214 756h1v1h-1zM113 757h1v1h-1zM117 757h2v1h-2zM133 757h1v1h-1zM154 757h1v1h-1zM245 757h2v1h-2zM302 757h1v1h-1zM346 757h2v1h-2zM443 757h1v1h-1zM841 757h1v1h-1zM854 757h3v1h-3zM962 757h1v1h-1zM980 757h1v1h-1zM1199 757h1v1h-1zM1215 757h1v1h-1zM114 758h3v1h-3zM134 758h2v1h-2zM152 758h2v1h-2zM247 758h2v1h-2zM302 758h1v1h-1zM348 758h4v1h-4zM442 758h1v1h-1zM842 758h4v1h-4zM852 758h2v1h-2zM981 758h1v1h-1zM1199 758h1v1h-1zM1216 758h1v1h-1zM114 759h1v1h-1zM136 759h2v1h-2zM150 759h2v1h-2zM249 759h2v1h-2zM301 759h1v1h-1zM352 759h6v1h-6zM441 759h1v1h-1zM846 759h6v1h-6zM982 759h1v1h-1zM1198 759h1v1h-1zM1216 759h1v1h-1zM138 760h2v1h-2zM149 760h1v1h-1zM250 760h1v1h-1zM300 760h1v1h-1zM358 760h6v1h-6zM440 760h1v1h-1zM982 760h1v1h-1zM1197 760h1v1h-1zM1217 760h1v1h-1zM140 761h4v1h-4zM147 761h2v1h-2zM251 761h1v1h-1zM299 761h1v1h-1zM364 761h4v1h-4zM439 761h1v1h-1zM983 761h1v1h-1zM1197 761h1v1h-1zM1217 761h1v1h-1zM1297 761h10v1h-10zM144 762h3v1h-3zM251 762h1v1h-1zM298 762h1v1h-1zM368 762h3v1h-3zM438 762h1v1h-1zM984 762h1v1h-1zM1196 762h1v1h-1zM1218 762h1v1h-1zM1234 762h4v1h-4zM1295 762h2v1h-2zM1307 762h1v1h-1zM252 763h1v1h-1zM296 763h2v1h-2zM371 763h2v1h-2zM394 763h1v1h-1zM438 763h1v1h-1zM985 763h1v1h-1zM1196 763h1v1h-1zM1219 763h1v1h-1zM1233 763h1v1h-1zM1238 763h16v1h-16zM1293 763h2v1h-2zM1308 763h1v1h-1zM252 764h1v1h-1zM295 764h1v1h-1zM373 764h2v1h-2zM392 764h3v1h-3zM417 764h3v1h-3zM437 764h1v1h-1zM985 764h1v1h-1zM1195 764h1v1h-1zM1220 764h1v1h-1zM1232 764h1v1h-1zM1254 764h5v1h-5zM1291 764h2v1h-2zM1309 764h1v1h-1zM253 765h1v1h-1zM282 765h2v1h-2zM294 765h1v1h-1zM375 765h2v1h-2zM390 765h2v1h-2zM395 765h1v1h-1zM415 765h2v1h-2zM420 765h4v1h-4zM436 765h1v1h-1zM986 765h2v1h-2zM1195 765h1v1h-1zM1221 765h1v1h-1zM1231 765h1v1h-1zM1259 765h2v1h-2zM1288 765h3v1h-3zM1310 765h2v1h-2zM253 766h1v1h-1zM281 766h1v1h-1zM284 766h2v1h-2zM292 766h2v1h-2zM377 766h3v1h-3zM389 766h1v1h-1zM395 766h1v1h-1zM413 766h2v1h-2zM424 766h6v1h-6zM435 766h1v1h-1zM988 766h2v1h-2zM1194 766h1v1h-1zM1222 766h1v1h-1zM1230 766h1v1h-1zM1261 766h1v1h-1zM1284 766h4v1h-4zM1312 766h1v1h-1zM254 767h1v1h-1zM280 767h1v1h-1zM286 767h3v1h-3zM291 767h1v1h-1zM380 767h4v1h-4zM387 767h2v1h-2zM396 767h1v1h-1zM411 767h2v1h-2zM430 767h5v1h-5zM990 767h3v1h-3zM998 767h8v1h-8zM1193 767h1v1h-1zM1223 767h1v1h-1zM1229 767h1v1h-1zM1262 767h2v1h-2zM1282 767h2v1h-2zM1313 767h1v1h-1zM254 768h1v1h-1zM278 768h2v1h-2zM289 768h2v1h-2zM384 768h3v1h-3zM396 768h1v1h-1zM410 768h1v1h-1zM993 768h5v1h-5zM1006 768h6v1h-6zM1192 768h1v1h-1zM1224 768h1v1h-1zM1228 768h1v1h-1zM1264 768h2v1h-2zM1280 768h2v1h-2zM1314 768h1v1h-1zM255 769h1v1h-1zM277 769h1v1h-1zM396 769h1v1h-1zM409 769h1v1h-1zM1012 769h2v1h-2zM1190 769h2v1h-2zM1225 769h1v1h-1zM1227 769h1v1h-1zM1266 769h2v1h-2zM1278 769h2v1h-2zM1315 769h1v1h-1zM255 770h1v1h-1zM276 770h1v1h-1zM397 770h1v1h-1zM409 770h1v1h-1zM1014 770h3v1h-3zM1189 770h1v1h-1zM1226 770h1v1h-1zM1268 770h2v1h-2zM1277 770h1v1h-1zM1316 770h2v1h-2zM256 771h1v1h-1zM266 771h4v1h-4zM275 771h1v1h-1zM397 771h1v1h-1zM408 771h1v1h-1zM1017 771h2v1h-2zM1188 771h1v1h-1zM1270 771h3v1h-3zM1275 771h2v1h-2zM1318 771h1v1h-1zM256 772h1v1h-1zM264 772h2v1h-2zM270 772h5v1h-5zM398 772h1v1h-1zM408 772h1v1h-1zM1019 772h1v1h-1zM1187 772h1v1h-1zM1273 772h2v1h-2zM1319 772h1v1h-1zM257 773h1v1h-1zM262 773h2v1h-2zM398 773h1v1h-1zM407 773h1v1h-1zM1019 773h1v1h-1zM1186 773h1v1h-1zM1320 773h2v1h-2zM257 774h1v1h-1zM261 774h1v1h-1zM398 774h1v1h-1zM407 774h1v1h-1zM1020 774h1v1h-1zM1184 774h2v1h-2zM1322 774h4v1h-4zM258 775h3v1h-3zM399 775h1v1h-1zM406 775h1v1h-1zM1020 775h1v1h-1zM1152 775h4v1h-4zM1182 775h2v1h-2zM1326 775h4v1h-4zM258 776h1v1h-1zM399 776h1v1h-1zM406 776h1v1h-1zM1021 776h1v1h-1zM1148 776h4v1h-4zM1156 776h4v1h-4zM1181 776h1v1h-1zM400 777h1v1h-1zM405 777h1v1h-1zM1021 777h1v1h-1zM1145 777h3v1h-3zM1160 777h4v1h-4zM1179 777h2v1h-2zM400 778h1v1h-1zM405 778h1v1h-1zM1022 778h1v1h-1zM1142 778h3v1h-3zM1164 778h4v1h-4zM1174 778h5v1h-5zM400 779h1v1h-1zM404 779h1v1h-1zM1022 779h1v1h-1zM1140 779h2v1h-2zM1168 779h6v1h-6zM401 780h1v1h-1zM404 780h1v1h-1zM1023 780h1v1h-1zM1138 780h2v1h-2zM401 781h1v1h-1zM403 781h1v1h-1zM1023 781h1v1h-1zM1137 781h1v1h-1zM402 782h2v1h-2zM1024 782h1v1h-1zM1136 782h1v1h-1zM402 783h1v1h-1zM1024 783h1v1h-1zM1102 783h6v1h-6zM1134 783h2v1h-2zM1025 784h1v1h-1zM1097 784h5v1h-5zM1108 784h2v1h-2zM1133 784h1v1h-1zM1025 785h1v1h-1zM1042 785h17v1h-17zM1094 785h3v1h-3zM1110 785h3v1h-3zM1132 785h1v1h-1zM1026 786h1v1h-1zM1040 786h2v1h-2zM1059 786h2v1h-2zM1092 786h2v1h-2zM1113 786h3v1h-3zM1131 786h1v1h-1zM1027 787h2v1h-2zM1038 787h2v1h-2zM1061 787h1v1h-1zM1089 787h3v1h-3zM1116 787h4v1h-4zM1126 787h5v1h-5zM1029 788h2v1h-2zM1037 788h1v1h-1zM1062 788h2v1h-2zM1086 788h3v1h-3zM1120 788h6v1h-6zM1031 789h2v1h-2zM1035 789h2v1h-2zM1064 789h2v1h-2zM1084 789h2v1h-2zM1033 790h2v1h-2zM1066 790h2v1h-2zM1081 790h3v1h-3zM1068 791h2v1h-2zM1078 791h3v1h-3zM1070 792h3v1h-3zM1076 792h2v1h-2zM1073 793h3v1h-3z" fill="#1e90ff"/>
</g>
<g shape-rendering="crispEdges" fill="#000">
<rect x="1" y="2" width="1682" height="1" fill="#000"/>
<rect x="1" y="523" width="1682" height="1" fill="#000"/>
<rect x="1" y="2" width="1" height="522" fill="#000"/>
<rect x="1682" y="2" width="1" height="522" fill="#000"/>
<rect x="1" y="525" width="1682" height="1" fill="#000"/>
<rect x="1" y="691" width="1682" height="1" fill="#000"/>
<rect x="1" y="525" width="1" height="167" fill="#000"/>
<rect x="1682" y="525" width="1" height="167" fill="#000"/>
<rect x="1" y="693" width="1682" height="1" fill="#000"/>
<rect x="1" y="817" width="1682" height="1" fill="#000"/>
<rect x="1" y="693" width="1" height="125" fill="#000"/>
<rect x="1682" y="693" width="1" height="125" fill="#000"/>
<rect x="1683" y="25" width="2" height="1" fill="#000"/>
<rect x="1683" y="58" width="2" height="1" fill="#000"/>
<rect x="1683" y="91" width="2" height="1" fill="#000"/>
<rect x="1683" y="124" width="2" height="1" fill="#000"/>
<rect x="1683" y="157" width="2" height="1" fill="#000"/>
<rect x="1683" y="190" width="2" height="1" fill="#000"/>
<rect x="1683" y="223" width="2" height="1" fill="#000"/>
<rect x="1683" y="256" width="2" height="1" fill="#000"/>
<rect x="1683" y="289" width="2" height="1" fill="#000"/>
<rect x="1683" y="322" width="2" height="1" fill="#000"/>
<rect x="1683" y="355" width="2" height="1" fill="#000"/>
<rect x="1683" y="388" width="2" height="1" fill="#000"/>
<rect x="1683" y="421" width="2" height="1" fill="#000"/>
<rect x="1683" y="454" width="2" height="1" fill="#000"/>
<rect x="1683" y="487" width="2" height="1" fill="#000"/>
<rect x="1683" y="520" width="2" height="1" fill="#000"/>
<rect x="1683" y="527" width="1" height="1" fill="#000"/>
<rect x="1683" y="601" width="2" height="1" fill="#000"/>
<rect x="1683" y="690" width="1" height="1" fill="#000"/>
<rect x="1683" y="695" width="1" height="1" fill="#000"/>
<rect x="1683" y="816" width="1" height="1" fill="#000"/>
<rect x="2" y="818" width="1" height="3" fill="#000"/>
<rect x="66" y="818" width="1" height="3" fill="#000"/>
<rect x="130" y="818" width="1" height="3" fill="#000"/>
<rect x="194" y="818" width="1" height="3" fill="#000"/>
<rect x="258" y="818" width="1" height="3" fill="#000"/>
<rect x="322" y="818" width="1" height="3" fill="#000"/>
<rect x="386" y="818" width="1" height="3" fill="#000"/>
<rect x="450" y="818" width="1" height="3" fill="#000"/>
<rect x="514" y="818" width="1" height="3" fill="#000"/>
<rect x="578" y="818" width="1" height="3" fill="#000"/>
<rect x="642" y="818" width="1" height="3" fill="#000"/>
<rect x="706" y="818" width="1" height="3" fill="#000"/>
<rect x="770" y="818" width="1" height="3" fill="#000"/>
<rect x="834" y="818" width="1" height="3" fill="#000"/>
<rect x="898" y="818" width="1" height="3" fill="#000"/>
<rect x="962" y="818" width="1" height="3" fill="#000"/>
<rect x="1026" y="818" width="1" height="3" fill="#000"/>
<rect x="1090" y="818" width="1" height="3" fill="#000"/>
<rect x="1154" y="818" width="1" height="3" fill="#000"/>
<rect x="1218" y="818" width="1" height="3" fill="#000"/>
<rect x="1282" y="818" width="1" height="3" fill="#000"/>
<rect x="1728" y="0" width="1" height="839" fill="#e3e3e3"/>
<rect x="0" y="838" width="1729" height="1" fill="#e3e3e3"/>
</g>
<polygon points="5,9 12,9 8.5,13" fill="#000"/>
<text x="16.50" y="15.00" font-size="9.6" fill="#000" stroke="#000" stroke-width="0.2" textLength="58.00" lengthAdjust="spacingAndGlyphs" style="font-family:'DejaVu Sans Condensed', 'DejaVu Sans', sans-serif">XAUUSD-,H4</text>
<text x="79.50" y="14.00" font-size="9.6" fill="#000" stroke="#000" stroke-width="0.2" textLength="142.00" lengthAdjust="spacingAndGlyphs" style="font-family:'DejaVu Sans Condensed', 'DejaVu Sans', sans-serif">1775.99 1776.88 1770.75 1775.49</text>
<text x="1688.50" y="29.00" font-size="9.6" fill="#000" stroke="#000" stroke-width="0.2" textLength="33.00" lengthAdjust="spacingAndGlyphs" style="font-family:'DejaVu Sans Condensed', 'DejaVu Sans', sans-serif">1877.70</text>
<text x="1688.50" y="62.00" font-size="9.6" fill="#000" stroke="#000" stroke-width="0.2" textLength="33.00" lengthAdjust="spacingAndGlyphs" style="font-family:'DejaVu Sans Condensed', 'DejaVu Sans', sans-serif">1869.70</text>
<text x="1688.50" y="95.00" font-size="9.6" fill="#000" stroke="#000" stroke-width="0.2" textLength="33.00" lengthAdjust="spacingAndGlyphs" style="font-family:'DejaVu Sans Condensed', 'DejaVu Sans', sans-serif">1861.50</text>
<text x="1688.50" y="128.00" font-size="9.6" fill="#000" stroke="#000" stroke-width="0.2" textLength="33.00" lengthAdjust="spacingAndGlyphs" style="font-family:'DejaVu Sans Condensed', 'DejaVu Sans', sans-serif">1853.50</text>
<text x="1688.50" y="161.00" font-size="9.6" fill="#000" stroke="#000" stroke-width="0.2" textLength="33.00" lengthAdjust="spacingAndGlyphs" style="font-family:'DejaVu Sans Condensed', 'DejaVu Sans', sans-serif">1845.30</text>
<text x="1688.50" y="194.00" font-size="9.6" fill="#000" stroke="#000" stroke-width="0.2" textLength="33.00" lengthAdjust="spacingAndGlyphs" style="font-family:'DejaVu Sans Condensed', 'DejaVu Sans', sans-serif">1837.30</text>
<text x="1688.50" y="227.00" font-size="9.6" fill="#000" stroke="#000" stroke-width="0.2" textLength="33.00" lengthAdjust="spacingAndGlyphs" style="font-family:'DejaVu Sans Condensed', 'DejaVu Sans', sans-serif">1829.10</text>
<text x="1688.50" y="260.00" font-size="9.6" fill="#000" stroke="#000" stroke-width="0.2" textLength="33.00" lengthAdjust="spacingAndGlyphs" style="font-family:'DejaVu Sans Condensed', 'DejaVu Sans', sans-serif">1821.10</text>
<text x="1688.50" y="293.00" font-size="9.6" fill="#000" stroke="#000" stroke-width="0.2" textLength="33.00" lengthAdjust="spacingAndGlyphs" style="font-family:'DejaVu Sans Condensed', 'DejaVu Sans', sans-serif">1812.90</text>
<text x="1688.50" y="326.00" font-size="9.6" fill="#000" stroke="#000" stroke-width="0.2" textLength="33.00" lengthAdjust="spacingAndGlyphs" style="font-family:'DejaVu Sans Condensed', 'DejaVu Sans', sans-serif">1804.90</text>
<text x="1688.50" y="359.00" font-size="9.6" fill="#000" stroke="#000" stroke-width="0.2" textLength="33.00" lengthAdjust="spacingAndGlyphs" style="font-family:'DejaVu Sans Condensed', 'DejaVu Sans', sans-serif">1796.70</text>
<text x="1688.50" y="392.00" font-size="9.6" fill="#000" stroke="#000" stroke-width="0.2" textLength="33.00" lengthAdjust="spacingAndGlyphs" style="font-family:'DejaVu Sans Condensed', 'DejaVu Sans', sans-serif">1788.70</text>
<text x="1688.50" y="425.00" font-size="9.6" fill="#000" stroke="#000" stroke-width="0.2" textLength="33.00" lengthAdjust="spacingAndGlyphs" style="font-family:'DejaVu Sans Condensed', 'DejaVu Sans', sans-serif">1780.50</text>
<text x="1688.50" y="458.00" font-size="9.6" fill="#000" stroke="#000" stroke-width="0.2" textLength="33.00" lengthAdjust="spacingAndGlyphs" style="font-family:'DejaVu Sans Condensed', 'DejaVu Sans', sans-serif">1772.50</text>
<text x="1688.50" y="491.00" font-size="9.6" fill="#000" stroke="#000" stroke-width="0.2" textLength="33.00" lengthAdjust="spacingAndGlyphs" style="font-family:'DejaVu Sans Condensed', 'DejaVu Sans', sans-serif">1764.30</text>
<text x="1688.50" y="524.00" font-size="9.6" fill="#000" stroke="#000" stroke-width="0.2" textLength="33.00" lengthAdjust="spacingAndGlyphs" style="font-family:'DejaVu Sans Condensed', 'DejaVu Sans', sans-serif">1756.30</text>
<rect x="1684" y="275" width="41" height="11" fill="#ff0000"/>
<rect x="1684" y="336" width="41" height="11" fill="#ff0000"/>
<rect x="1684" y="397" width="41" height="11" fill="#32cd32"/>
<rect x="1684" y="437" width="41" height="11" fill="#000"/>
<text x="1688.50" y="284.00" font-size="9.6" fill="#fff" stroke="#fff" stroke-width="0.2" textLength="33.00" lengthAdjust="spacingAndGlyphs" style="font-family:'DejaVu Sans Condensed', 'DejaVu Sans', sans-serif">1815.00</text>
<text x="1688.50" y="345.00" font-size="9.6" fill="#fff" stroke="#fff" stroke-width="0.2" textLength="33.00" lengthAdjust="spacingAndGlyphs" style="font-family:'DejaVu Sans Condensed', 'DejaVu Sans', sans-serif">1800.00</text>
<text x="1688.50" y="406.00" font-size="9.6" fill="#fff" stroke="#fff" stroke-width="0.2" textLength="33.00" lengthAdjust="spacingAndGlyphs" style="font-family:'DejaVu Sans Condensed', 'DejaVu Sans', sans-serif">1785.00</text>
<text x="1688.50" y="446.00" font-size="9.6" fill="#fff" stroke="#fff" stroke-width="0.2" textLength="33.00" lengthAdjust="spacingAndGlyphs" style="font-family:'DejaVu Sans Condensed', 'DejaVu Sans', sans-serif">1775.49</text>
<text x="5.50" y="539.00" font-size="9.6" fill="#000" stroke="#000" stroke-width="0.2" textLength="67.00" lengthAdjust="spacingAndGlyphs" style="font-family:'DejaVu Sans Condensed', 'DejaVu Sans', sans-serif">MACD(12,26,9)</text>
<text x="74.50" y="538.00" font-size="9.6" fill="#000" stroke="#000" stroke-width="0.2" textLength="27.00" lengthAdjust="spacingAndGlyphs" style="font-family:'DejaVu Sans Condensed', 'DejaVu Sans', sans-serif">-6.452</text>
<text x="103.50" y="538.00" font-size="9.6" fill="#000" stroke="#000" stroke-width="0.2" textLength="27.00" lengthAdjust="spacingAndGlyphs" style="font-family:'DejaVu Sans Condensed', 'DejaVu Sans', sans-serif">-5.754</text>
<text x="1686.50" y="536.00" font-size="9.6" fill="#000" stroke="#000" stroke-width="0.2" textLength="28.00" lengthAdjust="spacingAndGlyphs" style="font-family:'DejaVu Sans Condensed', 'DejaVu Sans', sans-serif">16.277</text>
<text x="1685.50" y="605.00" font-size="9.6" fill="#000" stroke="#000" stroke-width="0.2" textLength="19.00" lengthAdjust="spacingAndGlyphs" style="font-family:'DejaVu Sans Condensed', 'DejaVu Sans', sans-serif">0.00</text>
<text x="1685.50" y="688.00" font-size="9.6" fill="#000" stroke="#000" stroke-width="0.2" textLength="32.00" lengthAdjust="spacingAndGlyphs" style="font-family:'DejaVu Sans Condensed', 'DejaVu Sans', sans-serif">-19.389</text>
<text x="5.50" y="707.00" font-size="9.6" fill="#000" stroke="#000" stroke-width="0.2" textLength="33.00" lengthAdjust="spacingAndGlyphs" style="font-family:'DejaVu Sans Condensed', 'DejaVu Sans', sans-serif">RSI(14)</text>
<text x="40.50" y="706.00" font-size="9.6" fill="#000" stroke="#000" stroke-width="0.2" textLength="34.00" lengthAdjust="spacingAndGlyphs" style="font-family:'DejaVu Sans Condensed', 'DejaVu Sans', sans-serif">34.3624</text>
<text x="1685.50" y="704.00" font-size="9.6" fill="#000" stroke="#000" stroke-width="0.2" textLength="16.00" lengthAdjust="spacingAndGlyphs" style="font-family:'DejaVu Sans Condensed', 'DejaVu Sans', sans-serif">100</text>
<text x="1685.50" y="735.00" font-size="9.6" fill="#000" stroke="#000" stroke-width="0.2" textLength="10.00" lengthAdjust="spacingAndGlyphs" style="font-family:'DejaVu Sans Condensed', 'DejaVu Sans', sans-serif">70</text>
<text x="1684.50" y="784.00" font-size="9.6" fill="#000" stroke="#000" stroke-width="0.2" textLength="11.00" lengthAdjust="spacingAndGlyphs" style="font-family:'DejaVu Sans Condensed', 'DejaVu Sans', sans-serif">30</text>
<text x="1685.50" y="814.00" font-size="9.6" fill="#000" stroke="#000" stroke-width="0.2" textLength="7.00" lengthAdjust="spacingAndGlyphs" style="font-family:'DejaVu Sans Condensed', 'DejaVu Sans', sans-serif">0</text>
<text x="0.50" y="830.00" font-size="9.6" fill="#000" stroke="#000" stroke-width="0.2" textLength="51.00" lengthAdjust="spacingAndGlyphs" style="font-family:'DejaVu Sans Condensed', 'DejaVu Sans', sans-serif">22 Oct 2021</text>
<text x="64.50" y="830.00" font-size="9.6" fill="#000" stroke="#000" stroke-width="0.2" textLength="55.00" lengthAdjust="spacingAndGlyphs" style="font-family:'DejaVu Sans Condensed', 'DejaVu Sans', sans-serif">25 Oct 12:00</text>
<text x="128.50" y="830.00" font-size="9.6" fill="#000" stroke="#000" stroke-width="0.2" textLength="55.00" lengthAdjust="spacingAndGlyphs" style="font-family:'DejaVu Sans Condensed', 'DejaVu Sans', sans-serif">26 Oct 20:00</text>
<text x="192.50" y="830.00" font-size="9.6" fill="#000" stroke="#000" stroke-width="0.2" textLength="55.00" lengthAdjust="spacingAndGlyphs" style="font-family:'DejaVu Sans Condensed', 'DejaVu Sans', sans-serif">28 Oct 04:00</text>
<text x="256.50" y="830.00" font-size="9.6" fill="#000" stroke="#000" stroke-width="0.2" textLength="55.00" lengthAdjust="spacingAndGlyphs" style="font-family:'DejaVu Sans Condensed', 'DejaVu Sans', sans-serif">29 Oct 12:00</text>
<text x="320.50" y="830.00" font-size="9.6" fill="#000" stroke="#000" stroke-width="0.2" textLength="53.00" lengthAdjust="spacingAndGlyphs" style="font-family:'DejaVu Sans Condensed', 'DejaVu Sans', sans-serif">1 Nov 20:00</text>
<text x="384.50" y="830.00" font-size="9.6" fill="#000" stroke="#000" stroke-width="0.2" textLength="54.00" lengthAdjust="spacingAndGlyphs" style="font-family:'DejaVu Sans Condensed', 'DejaVu Sans', sans-serif">3 Nov 04:00</text>
<text x="448.50" y="830.00" font-size="9.6" fill="#000" stroke="#000" stroke-width="0.2" textLength="53.00" lengthAdjust="spacingAndGlyphs" style="font-family:'DejaVu Sans Condensed', 'DejaVu Sans', sans-serif">4 Nov 12:00</text>
<text x="512.50" y="830.00" font-size="9.6" fill="#000" stroke="#000" stroke-width="0.2" textLength="53.00" lengthAdjust="spacingAndGlyphs" style="font-family:'DejaVu Sans Condensed', 'DejaVu Sans', sans-serif">7 Nov 23:00</text>
<text x="576.50" y="830.00" font-size="9.6" fill="#000" stroke="#000" stroke-width="0.2" textLength="53.00" lengthAdjust="spacingAndGlyphs" style="font-family:'DejaVu Sans Condensed', 'DejaVu Sans', sans-serif">9 Nov 04:00</text>
<text x="640.50" y="830.00" font-size="9.6" fill="#000" stroke="#000" stroke-width="0.2" textLength="59.00" lengthAdjust="spacingAndGlyphs" style="font-family:'DejaVu Sans Condensed', 'DejaVu Sans', sans-serif">10 Nov 12:00</text>
<text x="704.50" y="830.00" font-size="9.6" fill="#000" stroke="#000" stroke-width="0.2" textLength="58.00" lengthAdjust="spacingAndGlyphs" style="font-family:'DejaVu Sans Condensed', 'DejaVu Sans', sans-serif">11 Nov 20:00</text>
<text x="768.50" y="830.00" font-size="9.6" fill="#000" stroke="#000" stroke-width="0.2" textLength="59.00" lengthAdjust="spacingAndGlyphs" style="font-family:'DejaVu Sans Condensed', 'DejaVu Sans', sans-serif">15 Nov 04:00</text>
<text x="832.50" y="830.00" font-size="9.6" fill="#000" stroke="#000" stroke-width="0.2" textLength="58.00" lengthAdjust="spacingAndGlyphs" style="font-family:'DejaVu Sans Condensed', 'DejaVu Sans', sans-serif">16 Nov 12:00</text>
<text x="896.50" y="830.00" font-size="9.6" fill="#000" stroke="#000" stroke-width="0.2" textLength="59.00" lengthAdjust="spacingAndGlyphs" style="font-family:'DejaVu Sans Condensed', 'DejaVu Sans', sans-serif">17 Nov 20:00</text>
<text x="960.50" y="830.00" font-size="9.6" fill="#000" stroke="#000" stroke-width="0.2" textLength="58.00" lengthAdjust="spacingAndGlyphs" style="font-family:'DejaVu Sans Condensed', 'DejaVu Sans', sans-serif">19 Nov 04:00</text>
<text x="1024.50" y="830.00" font-size="9.6" fill="#000" stroke="#000" stroke-width="0.2" textLength="59.00" lengthAdjust="spacingAndGlyphs" style="font-family:'DejaVu Sans Condensed', 'DejaVu Sans', sans-serif">22 Nov 12:00</text>
<text x="1088.50" y="830.00" font-size="9.6" fill="#000" stroke="#000" stroke-width="0.2" textLength="59.00" lengthAdjust="spacingAndGlyphs" style="font-family:'DejaVu Sans Condensed', 'DejaVu Sans', sans-serif">23 Nov 20:00</text>
<text x="1152.50" y="830.00" font-size="9.6" fill="#000" stroke="#000" stroke-width="0.2" textLength="58.00" lengthAdjust="spacingAndGlyphs" style="font-family:'DejaVu Sans Condensed', 'DejaVu Sans', sans-serif">25 Nov 04:00</text>
<text x="1216.50" y="830.00" font-size="9.6" fill="#000" stroke="#000" stroke-width="0.2" textLength="58.00" lengthAdjust="spacingAndGlyphs" style="font-family:'DejaVu Sans Condensed', 'DejaVu Sans', sans-serif">26 Nov 12:00</text>
<text x="1280.50" y="830.00" font-size="9.6" fill="#000" stroke="#000" stroke-width="0.2" textLength="58.00" lengthAdjust="spacingAndGlyphs" style="font-family:'DejaVu Sans Condensed', 'DejaVu Sans', sans-serif">29 Nov 20:00</text>
<text x="1265.5" y="175" font-size="35" letter-spacing="-2" fill="#ed1c24" style="font-family:'Noto Sans CJK SC',sans-serif">多空转折点</text>
<text x="1430" y="173" font-size="34.6" letter-spacing="-1.1" fill="#ed1c24" stroke="#ed1c24" stroke-width="0.5" style="font-family:'NanumGothic','Liberation Sans',sans-serif">1785</text>
</svg></body></html>
